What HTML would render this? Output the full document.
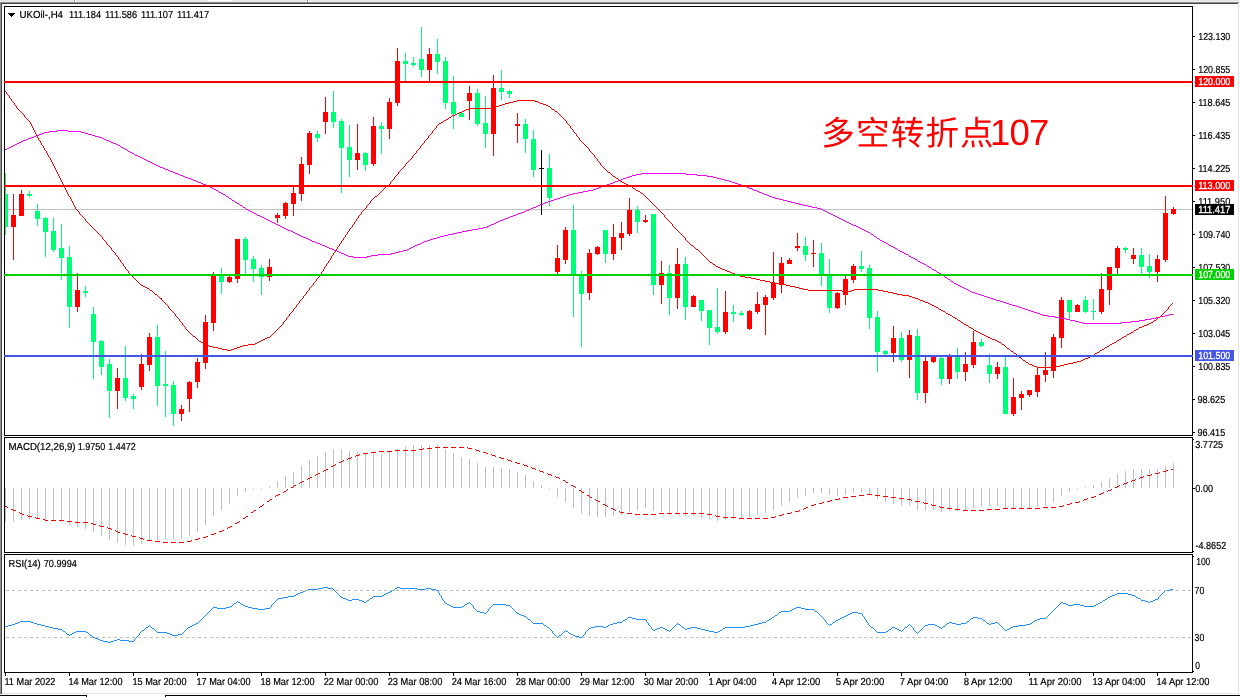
<!DOCTYPE html>
<html lang="zh"><head><meta charset="utf-8"><title>UKOil-,H4</title>
<style>
html,body{margin:0;padding:0;background:#fff;overflow:hidden}
svg{display:block}
text{font-family:"Liberation Sans","Noto Sans CJK SC",sans-serif;font-size:10.2px;fill:#000;stroke:#000;stroke-width:.2px;text-rendering:geometricPrecision}
.w{fill:#fff;stroke:#fff;stroke-width:.3px}
.note{font-family:"Liberation Sans","Noto Sans CJK SC",sans-serif;font-size:33.5px;fill:#f00;stroke:none}
.num{font-family:"Liberation Sans","Noto Sans CJK SC",sans-serif;font-size:36.5px;fill:#f00;stroke:none}
</style></head><body>
<svg width="1240" height="697" viewBox="0 0 1240 697">
<rect x="0" y="0" width="1240" height="697" fill="#fff"/>
<g shape-rendering="crispEdges">
<rect x="0" y="0" width="1240" height="1" fill="#e4e4e4"/>
<rect x="0" y="1" width="1240" height="1" fill="#ececec"/>
<rect x="208" y="0" width="24" height="1" fill="#ffffff"/>
<rect x="74" y="0" width="1" height="2" fill="#9a9a9a"/>
<rect x="75" y="0" width="1" height="2" fill="#ffffff"/>
<rect x="307" y="0" width="1" height="2" fill="#9a9a9a"/>
<rect x="308" y="0" width="1" height="2" fill="#ffffff"/>
<rect x="0" y="2" width="1239" height="1" fill="#909090"/>
<rect x="0" y="2" width="1" height="692" fill="#909090"/>
<rect x="1" y="3" width="1238" height="1" fill="#454545"/>
<rect x="1" y="3" width="1" height="691" fill="#454545"/>
<rect x="1238" y="3" width="1" height="691" fill="#e3e3e3"/>
<rect x="2" y="693" width="1237" height="1" fill="#e3e3e3"/>
<rect x="0" y="695" width="87" height="1" fill="#000"/>
<rect x="86" y="695" width="1" height="2" fill="#000"/>
<rect x="165" y="695" width="1075" height="1" fill="#000"/>
<rect x="165" y="695" width="1" height="2" fill="#000"/>
<rect x="4" y="6" width="1189" height="1" fill="#000"/>
<rect x="4" y="435" width="1189" height="1" fill="#000"/>
<rect x="4" y="6" width="1" height="430" fill="#000"/>
<rect x="1192" y="6" width="1" height="430" fill="#000"/>
<rect x="4" y="437" width="1189" height="1" fill="#000"/>
<rect x="4" y="552" width="1189" height="1" fill="#000"/>
<rect x="4" y="437" width="1" height="116" fill="#000"/>
<rect x="1192" y="437" width="1" height="116" fill="#000"/>
<rect x="4" y="554" width="1189" height="1" fill="#000"/>
<rect x="4" y="672" width="1189" height="1" fill="#000"/>
<rect x="4" y="554" width="1" height="119" fill="#000"/>
<rect x="1192" y="554" width="1" height="119" fill="#000"/>
</g>
<g shape-rendering="crispEdges">
<rect x="5" y="209" width="1187" height="1" fill="#C0C0C0"/>
<rect x="5" y="173" width="1" height="62" fill="#00FF76"/>
<rect x="5" y="194" width="3" height="33" fill="#00FF76"/>
<rect x="13" y="194" width="1" height="66" fill="#FF0000"/>
<rect x="11" y="215" width="5" height="12" fill="#FF0000"/>
<rect x="21" y="190" width="1" height="26" fill="#FF0000"/>
<rect x="19" y="194" width="5" height="22" fill="#FF0000"/>
<rect x="29" y="191" width="1" height="6" fill="#00FF76"/>
<rect x="27" y="194" width="5" height="2" fill="#00FF76"/>
<rect x="37" y="204" width="1" height="22" fill="#00FF76"/>
<rect x="35" y="211" width="5" height="8" fill="#00FF76"/>
<rect x="45" y="217" width="1" height="40" fill="#00FF76"/>
<rect x="43" y="218" width="5" height="14" fill="#00FF76"/>
<rect x="53" y="218" width="1" height="34" fill="#00FF76"/>
<rect x="51" y="231" width="5" height="19" fill="#00FF76"/>
<rect x="61" y="224" width="1" height="56" fill="#00FF76"/>
<rect x="59" y="248" width="5" height="10" fill="#00FF76"/>
<rect x="69" y="246" width="1" height="82" fill="#00FF76"/>
<rect x="67" y="257" width="5" height="50" fill="#00FF76"/>
<rect x="77" y="273" width="1" height="39" fill="#FF0000"/>
<rect x="75" y="290" width="5" height="17" fill="#FF0000"/>
<rect x="85" y="286" width="1" height="11" fill="#00FF76"/>
<rect x="83" y="291" width="5" height="2" fill="#00FF76"/>
<rect x="93" y="307" width="1" height="72" fill="#00FF76"/>
<rect x="91" y="314" width="5" height="28" fill="#00FF76"/>
<rect x="101" y="340" width="1" height="35" fill="#00FF76"/>
<rect x="99" y="341" width="5" height="26" fill="#00FF76"/>
<rect x="109" y="359" width="1" height="59" fill="#00FF76"/>
<rect x="107" y="364" width="5" height="27" fill="#00FF76"/>
<rect x="117" y="368" width="1" height="41" fill="#FF0000"/>
<rect x="115" y="378" width="5" height="13" fill="#FF0000"/>
<rect x="125" y="346" width="1" height="55" fill="#00FF76"/>
<rect x="123" y="378" width="5" height="20" fill="#00FF76"/>
<rect x="133" y="394" width="1" height="15" fill="#00FF76"/>
<rect x="131" y="396" width="5" height="3" fill="#00FF76"/>
<rect x="141" y="354" width="1" height="36" fill="#FF0000"/>
<rect x="139" y="364" width="5" height="23" fill="#FF0000"/>
<rect x="149" y="333" width="1" height="38" fill="#FF0000"/>
<rect x="147" y="337" width="5" height="28" fill="#FF0000"/>
<rect x="157" y="325" width="1" height="81" fill="#00FF76"/>
<rect x="155" y="337" width="5" height="49" fill="#00FF76"/>
<rect x="165" y="351" width="1" height="66" fill="#00FF76"/>
<rect x="163" y="384" width="5" height="2" fill="#00FF76"/>
<rect x="173" y="381" width="1" height="45" fill="#00FF76"/>
<rect x="171" y="385" width="5" height="29" fill="#00FF76"/>
<rect x="181" y="405" width="1" height="16" fill="#FF0000"/>
<rect x="179" y="409" width="5" height="5" fill="#FF0000"/>
<rect x="189" y="381" width="1" height="31" fill="#FF0000"/>
<rect x="187" y="382" width="5" height="17" fill="#FF0000"/>
<rect x="197" y="358" width="1" height="30" fill="#FF0000"/>
<rect x="195" y="362" width="5" height="20" fill="#FF0000"/>
<rect x="205" y="315" width="1" height="54" fill="#FF0000"/>
<rect x="203" y="322" width="5" height="41" fill="#FF0000"/>
<rect x="213" y="272" width="1" height="59" fill="#FF0000"/>
<rect x="211" y="275" width="5" height="48" fill="#FF0000"/>
<rect x="221" y="268" width="1" height="26" fill="#00FF76"/>
<rect x="219" y="275" width="5" height="7" fill="#00FF76"/>
<rect x="229" y="276" width="1" height="7" fill="#FF0000"/>
<rect x="227" y="277" width="5" height="5" fill="#FF0000"/>
<rect x="237" y="239" width="1" height="44" fill="#FF0000"/>
<rect x="235" y="239" width="5" height="40" fill="#FF0000"/>
<rect x="245" y="237" width="1" height="38" fill="#00FF76"/>
<rect x="243" y="239" width="5" height="21" fill="#00FF76"/>
<rect x="253" y="256" width="1" height="26" fill="#00FF76"/>
<rect x="251" y="259" width="5" height="10" fill="#00FF76"/>
<rect x="261" y="265" width="1" height="30" fill="#00FF76"/>
<rect x="259" y="268" width="5" height="9" fill="#00FF76"/>
<rect x="269" y="259" width="1" height="22" fill="#FF0000"/>
<rect x="267" y="267" width="5" height="10" fill="#FF0000"/>
<rect x="277" y="213" width="1" height="10" fill="#FF0000"/>
<rect x="275" y="215" width="5" height="3" fill="#FF0000"/>
<rect x="285" y="202" width="1" height="17" fill="#FF0000"/>
<rect x="283" y="203" width="5" height="13" fill="#FF0000"/>
<rect x="293" y="187" width="1" height="29" fill="#FF0000"/>
<rect x="291" y="193" width="5" height="11" fill="#FF0000"/>
<rect x="301" y="157" width="1" height="44" fill="#FF0000"/>
<rect x="299" y="164" width="5" height="30" fill="#FF0000"/>
<rect x="309" y="131" width="1" height="43" fill="#FF0000"/>
<rect x="307" y="133" width="5" height="32" fill="#FF0000"/>
<rect x="317" y="131" width="1" height="11" fill="#00FF76"/>
<rect x="315" y="134" width="5" height="4" fill="#00FF76"/>
<rect x="325" y="97" width="1" height="37" fill="#FF0000"/>
<rect x="323" y="112" width="5" height="10" fill="#FF0000"/>
<rect x="333" y="91" width="1" height="37" fill="#00FF76"/>
<rect x="331" y="112" width="5" height="10" fill="#00FF76"/>
<rect x="341" y="119" width="1" height="74" fill="#00FF76"/>
<rect x="339" y="121" width="5" height="27" fill="#00FF76"/>
<rect x="349" y="125" width="1" height="52" fill="#00FF76"/>
<rect x="347" y="147" width="5" height="13" fill="#00FF76"/>
<rect x="357" y="124" width="1" height="46" fill="#FF0000"/>
<rect x="355" y="153" width="5" height="7" fill="#FF0000"/>
<rect x="365" y="152" width="1" height="19" fill="#00FF76"/>
<rect x="363" y="153" width="5" height="12" fill="#00FF76"/>
<rect x="373" y="117" width="1" height="49" fill="#FF0000"/>
<rect x="371" y="126" width="5" height="38" fill="#FF0000"/>
<rect x="381" y="122" width="1" height="32" fill="#00FF76"/>
<rect x="379" y="126" width="5" height="3" fill="#00FF76"/>
<rect x="389" y="98" width="1" height="41" fill="#FF0000"/>
<rect x="387" y="102" width="5" height="27" fill="#FF0000"/>
<rect x="397" y="48" width="1" height="58" fill="#FF0000"/>
<rect x="395" y="61" width="5" height="42" fill="#FF0000"/>
<rect x="405" y="53" width="1" height="29" fill="#00FF76"/>
<rect x="403" y="61" width="5" height="3" fill="#00FF76"/>
<rect x="413" y="57" width="1" height="10" fill="#00FF76"/>
<rect x="411" y="63" width="5" height="2" fill="#00FF76"/>
<rect x="421" y="27" width="1" height="50" fill="#00FF76"/>
<rect x="419" y="59" width="5" height="11" fill="#00FF76"/>
<rect x="429" y="48" width="1" height="34" fill="#FF0000"/>
<rect x="427" y="54" width="5" height="16" fill="#FF0000"/>
<rect x="437" y="39" width="1" height="35" fill="#00FF76"/>
<rect x="435" y="54" width="5" height="8" fill="#00FF76"/>
<rect x="445" y="57" width="1" height="52" fill="#00FF76"/>
<rect x="443" y="61" width="5" height="42" fill="#00FF76"/>
<rect x="453" y="76" width="1" height="53" fill="#00FF76"/>
<rect x="451" y="102" width="5" height="12" fill="#00FF76"/>
<rect x="461" y="113" width="1" height="4" fill="#00FF76"/>
<rect x="459" y="113" width="5" height="4" fill="#00FF76"/>
<rect x="469" y="86" width="1" height="34" fill="#FF0000"/>
<rect x="467" y="93" width="5" height="8" fill="#FF0000"/>
<rect x="477" y="89" width="1" height="37" fill="#00FF76"/>
<rect x="475" y="93" width="5" height="31" fill="#00FF76"/>
<rect x="485" y="96" width="1" height="52" fill="#00FF76"/>
<rect x="483" y="123" width="5" height="11" fill="#00FF76"/>
<rect x="493" y="75" width="1" height="81" fill="#FF0000"/>
<rect x="491" y="88" width="5" height="46" fill="#FF0000"/>
<rect x="501" y="70" width="1" height="30" fill="#00FF76"/>
<rect x="499" y="88" width="5" height="4" fill="#00FF76"/>
<rect x="509" y="90" width="1" height="8" fill="#00FF76"/>
<rect x="507" y="91" width="5" height="3" fill="#00FF76"/>
<rect x="517" y="113" width="1" height="30" fill="#FF0000"/>
<rect x="515" y="124" width="5" height="2" fill="#FF0000"/>
<rect x="525" y="119" width="1" height="34" fill="#00FF76"/>
<rect x="523" y="124" width="5" height="15" fill="#00FF76"/>
<rect x="533" y="130" width="1" height="47" fill="#00FF76"/>
<rect x="531" y="139" width="5" height="31" fill="#00FF76"/>
<rect x="541" y="150" width="1" height="65" fill="#000"/>
<rect x="539" y="168" width="5" height="1" fill="#000"/>
<rect x="549" y="154" width="1" height="52" fill="#00FF76"/>
<rect x="547" y="168" width="5" height="30" fill="#00FF76"/>
<rect x="557" y="245" width="1" height="29" fill="#FF0000"/>
<rect x="555" y="258" width="5" height="14" fill="#FF0000"/>
<rect x="565" y="227" width="1" height="37" fill="#FF0000"/>
<rect x="563" y="230" width="5" height="30" fill="#FF0000"/>
<rect x="573" y="205" width="1" height="112" fill="#00FF76"/>
<rect x="571" y="230" width="5" height="45" fill="#00FF76"/>
<rect x="581" y="271" width="1" height="76" fill="#00FF76"/>
<rect x="579" y="275" width="5" height="19" fill="#00FF76"/>
<rect x="589" y="249" width="1" height="51" fill="#FF0000"/>
<rect x="587" y="253" width="5" height="40" fill="#FF0000"/>
<rect x="597" y="246" width="1" height="9" fill="#FF0000"/>
<rect x="595" y="247" width="5" height="7" fill="#FF0000"/>
<rect x="605" y="230" width="1" height="33" fill="#00FF76"/>
<rect x="603" y="230" width="5" height="24" fill="#00FF76"/>
<rect x="613" y="224" width="1" height="36" fill="#FF0000"/>
<rect x="611" y="237" width="5" height="17" fill="#FF0000"/>
<rect x="621" y="222" width="1" height="28" fill="#FF0000"/>
<rect x="619" y="233" width="5" height="5" fill="#FF0000"/>
<rect x="629" y="198" width="1" height="38" fill="#FF0000"/>
<rect x="627" y="210" width="5" height="24" fill="#FF0000"/>
<rect x="637" y="206" width="1" height="27" fill="#00FF76"/>
<rect x="635" y="210" width="5" height="12" fill="#00FF76"/>
<rect x="645" y="215" width="1" height="8" fill="#FF0000"/>
<rect x="643" y="220" width="5" height="2" fill="#FF0000"/>
<rect x="653" y="214" width="1" height="81" fill="#00FF76"/>
<rect x="651" y="214" width="5" height="71" fill="#00FF76"/>
<rect x="661" y="261" width="1" height="43" fill="#FF0000"/>
<rect x="659" y="273" width="5" height="12" fill="#FF0000"/>
<rect x="669" y="265" width="1" height="50" fill="#00FF76"/>
<rect x="667" y="273" width="5" height="25" fill="#00FF76"/>
<rect x="677" y="248" width="1" height="61" fill="#FF0000"/>
<rect x="675" y="264" width="5" height="34" fill="#FF0000"/>
<rect x="685" y="257" width="1" height="63" fill="#00FF76"/>
<rect x="683" y="264" width="5" height="43" fill="#00FF76"/>
<rect x="693" y="295" width="1" height="12" fill="#FF0000"/>
<rect x="691" y="296" width="5" height="11" fill="#FF0000"/>
<rect x="701" y="300" width="1" height="21" fill="#00FF76"/>
<rect x="699" y="300" width="5" height="11" fill="#00FF76"/>
<rect x="709" y="310" width="1" height="35" fill="#00FF76"/>
<rect x="707" y="310" width="5" height="18" fill="#00FF76"/>
<rect x="717" y="288" width="1" height="46" fill="#00FF76"/>
<rect x="715" y="327" width="5" height="5" fill="#00FF76"/>
<rect x="725" y="291" width="1" height="43" fill="#FF0000"/>
<rect x="723" y="312" width="5" height="20" fill="#FF0000"/>
<rect x="733" y="305" width="1" height="17" fill="#00FF76"/>
<rect x="731" y="312" width="5" height="2" fill="#00FF76"/>
<rect x="741" y="311" width="1" height="5" fill="#00FF76"/>
<rect x="739" y="313" width="5" height="2" fill="#00FF76"/>
<rect x="749" y="310" width="1" height="20" fill="#FF0000"/>
<rect x="747" y="311" width="5" height="18" fill="#FF0000"/>
<rect x="757" y="292" width="1" height="22" fill="#FF0000"/>
<rect x="755" y="304" width="5" height="8" fill="#FF0000"/>
<rect x="765" y="295" width="1" height="40" fill="#FF0000"/>
<rect x="763" y="297" width="5" height="8" fill="#FF0000"/>
<rect x="773" y="252" width="1" height="48" fill="#FF0000"/>
<rect x="771" y="283" width="5" height="15" fill="#FF0000"/>
<rect x="781" y="257" width="1" height="36" fill="#FF0000"/>
<rect x="779" y="263" width="5" height="22" fill="#FF0000"/>
<rect x="789" y="258" width="1" height="6" fill="#FF0000"/>
<rect x="787" y="260" width="5" height="4" fill="#FF0000"/>
<rect x="797" y="233" width="1" height="18" fill="#FF0000"/>
<rect x="795" y="246" width="5" height="2" fill="#FF0000"/>
<rect x="805" y="237" width="1" height="24" fill="#00FF76"/>
<rect x="803" y="246" width="5" height="9" fill="#00FF76"/>
<rect x="813" y="240" width="1" height="27" fill="#FF0000"/>
<rect x="811" y="253" width="5" height="1" fill="#FF0000"/>
<rect x="821" y="243" width="1" height="43" fill="#00FF76"/>
<rect x="819" y="253" width="5" height="22" fill="#00FF76"/>
<rect x="829" y="259" width="1" height="54" fill="#00FF76"/>
<rect x="827" y="275" width="5" height="33" fill="#00FF76"/>
<rect x="837" y="292" width="1" height="17" fill="#FF0000"/>
<rect x="835" y="293" width="5" height="15" fill="#FF0000"/>
<rect x="845" y="276" width="1" height="29" fill="#FF0000"/>
<rect x="843" y="279" width="5" height="16" fill="#FF0000"/>
<rect x="853" y="264" width="1" height="19" fill="#FF0000"/>
<rect x="851" y="266" width="5" height="14" fill="#FF0000"/>
<rect x="861" y="251" width="1" height="21" fill="#00FF76"/>
<rect x="859" y="266" width="5" height="3" fill="#00FF76"/>
<rect x="869" y="265" width="1" height="64" fill="#00FF76"/>
<rect x="867" y="268" width="5" height="50" fill="#00FF76"/>
<rect x="877" y="311" width="1" height="61" fill="#00FF76"/>
<rect x="875" y="317" width="5" height="35" fill="#00FF76"/>
<rect x="885" y="350" width="1" height="7" fill="#00FF76"/>
<rect x="883" y="351" width="5" height="3" fill="#00FF76"/>
<rect x="893" y="326" width="1" height="36" fill="#FF0000"/>
<rect x="891" y="338" width="5" height="15" fill="#FF0000"/>
<rect x="901" y="332" width="1" height="30" fill="#00FF76"/>
<rect x="899" y="338" width="5" height="22" fill="#00FF76"/>
<rect x="909" y="330" width="1" height="48" fill="#FF0000"/>
<rect x="907" y="335" width="5" height="25" fill="#FF0000"/>
<rect x="917" y="329" width="1" height="71" fill="#00FF76"/>
<rect x="915" y="336" width="5" height="57" fill="#00FF76"/>
<rect x="925" y="357" width="1" height="46" fill="#FF0000"/>
<rect x="923" y="361" width="5" height="32" fill="#FF0000"/>
<rect x="933" y="357" width="1" height="6" fill="#FF0000"/>
<rect x="931" y="357" width="5" height="5" fill="#FF0000"/>
<rect x="941" y="357" width="1" height="28" fill="#00FF76"/>
<rect x="939" y="358" width="5" height="21" fill="#00FF76"/>
<rect x="949" y="354" width="1" height="30" fill="#FF0000"/>
<rect x="947" y="355" width="5" height="24" fill="#FF0000"/>
<rect x="957" y="348" width="1" height="31" fill="#00FF76"/>
<rect x="955" y="356" width="5" height="16" fill="#00FF76"/>
<rect x="965" y="352" width="1" height="29" fill="#FF0000"/>
<rect x="963" y="364" width="5" height="8" fill="#FF0000"/>
<rect x="973" y="331" width="1" height="37" fill="#FF0000"/>
<rect x="971" y="342" width="5" height="23" fill="#FF0000"/>
<rect x="981" y="339" width="1" height="8" fill="#00FF76"/>
<rect x="979" y="342" width="5" height="4" fill="#00FF76"/>
<rect x="989" y="354" width="1" height="29" fill="#00FF76"/>
<rect x="987" y="365" width="5" height="9" fill="#00FF76"/>
<rect x="997" y="362" width="1" height="17" fill="#FF0000"/>
<rect x="995" y="367" width="5" height="7" fill="#FF0000"/>
<rect x="1005" y="357" width="1" height="57" fill="#00FF76"/>
<rect x="1003" y="367" width="5" height="47" fill="#00FF76"/>
<rect x="1013" y="378" width="1" height="38" fill="#FF0000"/>
<rect x="1011" y="397" width="5" height="17" fill="#FF0000"/>
<rect x="1021" y="391" width="1" height="19" fill="#FF0000"/>
<rect x="1019" y="394" width="5" height="4" fill="#FF0000"/>
<rect x="1029" y="390" width="1" height="7" fill="#FF0000"/>
<rect x="1027" y="390" width="5" height="5" fill="#FF0000"/>
<rect x="1037" y="367" width="1" height="30" fill="#FF0000"/>
<rect x="1035" y="375" width="5" height="17" fill="#FF0000"/>
<rect x="1045" y="352" width="1" height="30" fill="#FF0000"/>
<rect x="1043" y="370" width="5" height="5" fill="#FF0000"/>
<rect x="1053" y="334" width="1" height="44" fill="#FF0000"/>
<rect x="1051" y="337" width="5" height="34" fill="#FF0000"/>
<rect x="1061" y="297" width="1" height="51" fill="#FF0000"/>
<rect x="1059" y="300" width="5" height="38" fill="#FF0000"/>
<rect x="1069" y="300" width="1" height="19" fill="#00FF76"/>
<rect x="1067" y="300" width="5" height="12" fill="#00FF76"/>
<rect x="1077" y="304" width="1" height="8" fill="#FF0000"/>
<rect x="1075" y="305" width="5" height="7" fill="#FF0000"/>
<rect x="1085" y="296" width="1" height="17" fill="#00FF76"/>
<rect x="1083" y="300" width="5" height="12" fill="#00FF76"/>
<rect x="1093" y="299" width="1" height="21" fill="#00FF76"/>
<rect x="1091" y="311" width="5" height="1" fill="#00FF76"/>
<rect x="1101" y="273" width="1" height="41" fill="#FF0000"/>
<rect x="1099" y="289" width="5" height="23" fill="#FF0000"/>
<rect x="1109" y="267" width="1" height="38" fill="#FF0000"/>
<rect x="1107" y="267" width="5" height="23" fill="#FF0000"/>
<rect x="1117" y="246" width="1" height="28" fill="#FF0000"/>
<rect x="1115" y="248" width="5" height="20" fill="#FF0000"/>
<rect x="1125" y="247" width="1" height="6" fill="#00FF76"/>
<rect x="1123" y="248" width="5" height="2" fill="#00FF76"/>
<rect x="1133" y="248" width="1" height="16" fill="#FF0000"/>
<rect x="1131" y="255" width="5" height="4" fill="#FF0000"/>
<rect x="1141" y="248" width="1" height="26" fill="#00FF76"/>
<rect x="1139" y="255" width="5" height="12" fill="#00FF76"/>
<rect x="1149" y="254" width="1" height="24" fill="#00FF76"/>
<rect x="1147" y="266" width="5" height="6" fill="#00FF76"/>
<rect x="1157" y="255" width="1" height="27" fill="#FF0000"/>
<rect x="1155" y="259" width="5" height="13" fill="#FF0000"/>
<rect x="1165" y="196" width="1" height="66" fill="#FF0000"/>
<rect x="1163" y="213" width="5" height="47" fill="#FF0000"/>
<rect x="1173" y="207" width="1" height="8" fill="#FF0000"/>
<rect x="1171" y="209" width="5" height="5" fill="#FF0000"/>
</g>
<path d="M5 149h2v1h-2zM7 148h2v1h-2zM9 147h2v1h-2zM11 146h2v1h-2zM13 145h2v1h-2zM15 144h2v1h-2zM17 143h2v1h-2zM19 142h2v1h-2zM21 141h2v1h-2zM23 140h3v1h-3zM26 139h2v1h-2zM28 138h3v1h-3zM31 137h3v1h-3zM34 136h2v1h-2zM36 135h3v1h-3zM39 134h3v1h-3zM42 133h2v1h-2zM44 132h5v1h-5zM49 131h8v1h-8zM57 130h11v1h-11zM68 131h13v1h-13zM81 132h4v1h-4zM85 133h3v1h-3zM88 134h4v1h-4zM92 135h3v1h-3zM95 136h4v1h-4zM99 137h3v1h-3zM102 138h2v1h-2zM104 139h2v1h-2zM106 140h3v1h-3zM109 141h2v1h-2zM111 142h2v1h-2zM113 143h3v1h-3zM116 144h2v1h-2zM118 145h2v1h-2zM120 146h1v1h-1zM121 147h2v1h-2zM123 148h2v1h-2zM125 149h2v1h-2zM127 150h1v1h-1zM128 151h2v1h-2zM130 152h2v1h-2zM132 153h2v1h-2zM134 154h1v1h-1zM135 155h3v1h-3zM138 156h2v1h-2zM140 157h2v1h-2zM142 158h2v1h-2zM144 159h2v1h-2zM146 160h2v1h-2zM148 161h2v1h-2zM150 162h2v1h-2zM152 163h2v1h-2zM154 164h2v1h-2zM156 165h2v1h-2zM158 166h2v1h-2zM160 167h3v1h-3zM163 168h2v1h-2zM165 169h3v1h-3zM168 170h2v1h-2zM170 171h3v1h-3zM173 172h2v1h-2zM175 173h3v1h-3zM178 174h2v1h-2zM180 175h3v1h-3zM183 176h2v1h-2zM185 177h3v1h-3zM188 178h3v1h-3zM191 179h2v1h-2zM193 180h3v1h-3zM196 181h2v1h-2zM198 182h3v1h-3zM201 183h2v1h-2zM203 184h3v1h-3zM206 185h2v1h-2zM208 186h2v1h-2zM210 187h2v1h-2zM212 188h2v1h-2zM214 189h2v1h-2zM216 190h2v1h-2zM218 191h1v1h-1zM219 192h2v1h-2zM221 193h2v1h-2zM223 194h2v1h-2zM225 195h1v1h-1zM226 196h2v1h-2zM228 197h1v1h-1zM229 198h2v1h-2zM231 199h1v1h-1zM232 200h2v1h-2zM234 201h1v1h-1zM235 202h2v1h-2zM237 203h2v1h-2zM239 204h1v1h-1zM240 205h2v1h-2zM242 206h1v1h-1zM243 207h2v1h-2zM245 208h1v1h-1zM246 209h2v1h-2zM248 210h2v1h-2zM250 211h2v1h-2zM252 212h2v1h-2zM254 213h2v1h-2zM256 214h1v1h-1zM257 215h3v1h-3zM260 216h2v1h-2zM262 217h2v1h-2zM264 218h2v1h-2zM266 219h2v1h-2zM268 220h2v1h-2zM270 221h2v1h-2zM272 222h2v1h-2zM274 223h2v1h-2zM276 224h2v1h-2zM278 225h2v1h-2zM280 226h2v1h-2zM282 227h2v1h-2zM284 228h2v1h-2zM286 229h2v1h-2zM288 230h3v1h-3zM291 231h2v1h-2zM293 232h2v1h-2zM295 233h2v1h-2zM297 234h2v1h-2zM299 235h2v1h-2zM301 236h2v1h-2zM303 237h3v1h-3zM306 238h2v1h-2zM308 239h2v1h-2zM310 240h2v1h-2zM312 241h3v1h-3zM315 242h2v1h-2zM317 243h3v1h-3zM320 244h2v1h-2zM322 245h3v1h-3zM325 246h2v1h-2zM327 247h2v1h-2zM329 248h3v1h-3zM332 249h2v1h-2zM334 250h3v1h-3zM337 251h2v1h-2zM339 252h2v1h-2zM341 253h3v1h-3zM344 254h2v1h-2zM346 255h2v1h-2zM348 256h5v1h-5zM353 257h14v1h-14zM367 256h4v1h-4zM371 255h7v1h-7zM378 254h13v1h-13zM391 253h4v1h-4zM395 252h4v1h-4zM399 251h4v1h-4zM403 250h4v1h-4zM407 249h2v1h-2zM409 248h2v1h-2zM411 247h2v1h-2zM413 246h2v1h-2zM415 245h2v1h-2zM417 244h3v1h-3zM420 243h2v1h-2zM422 242h2v1h-2zM424 241h3v1h-3zM427 240h3v1h-3zM430 239h3v1h-3zM433 238h4v1h-4zM437 237h3v1h-3zM440 236h4v1h-4zM444 235h4v1h-4zM448 234h5v1h-5zM453 233h4v1h-4zM457 232h5v1h-5zM462 231h5v1h-5zM467 230h5v1h-5zM472 229h6v1h-6zM478 228h5v1h-5zM483 227h4v1h-4zM487 226h2v1h-2zM489 225h2v1h-2zM491 224h3v1h-3zM494 223h2v1h-2zM496 222h2v1h-2zM498 221h2v1h-2zM500 220h3v1h-3zM503 219h2v1h-2zM505 218h3v1h-3zM508 217h2v1h-2zM510 216h3v1h-3zM513 215h3v1h-3zM516 214h2v1h-2zM518 213h3v1h-3zM521 212h3v1h-3zM524 211h2v1h-2zM526 210h3v1h-3zM529 209h2v1h-2zM531 208h2v1h-2zM533 207h3v1h-3zM536 206h2v1h-2zM538 205h2v1h-2zM540 204h3v1h-3zM543 203h2v1h-2zM545 202h3v1h-3zM548 201h3v1h-3zM551 200h3v1h-3zM554 199h3v1h-3zM557 198h3v1h-3zM560 197h3v1h-3zM563 196h3v1h-3zM566 195h3v1h-3zM569 194h4v1h-4zM573 193h5v1h-5zM578 192h5v1h-5zM583 191h5v1h-5zM588 190h5v1h-5zM593 189h3v1h-3zM596 188h3v1h-3zM599 187h2v1h-2zM601 186h3v1h-3zM604 185h3v1h-3zM607 184h3v1h-3zM610 183h3v1h-3zM613 182h2v1h-2zM615 181h3v1h-3zM618 180h3v1h-3zM621 179h2v1h-2zM623 178h3v1h-3zM626 177h3v1h-3zM629 176h3v1h-3zM632 175h4v1h-4zM636 174h5v1h-5zM641 173h45v1h-45zM686 174h11v1h-11zM697 175h10v1h-10zM707 176h6v1h-6zM713 177h4v1h-4zM717 178h4v1h-4zM721 179h4v1h-4zM725 180h4v1h-4zM729 181h3v1h-3zM732 182h3v1h-3zM735 183h3v1h-3zM738 184h3v1h-3zM741 185h3v1h-3zM744 186h3v1h-3zM747 187h2v1h-2zM749 188h3v1h-3zM752 189h2v1h-2zM754 190h3v1h-3zM757 191h2v1h-2zM759 192h3v1h-3zM762 193h2v1h-2zM764 194h3v1h-3zM767 195h2v1h-2zM769 196h3v1h-3zM772 197h3v1h-3zM775 198h4v1h-4zM779 199h4v1h-4zM783 200h4v1h-4zM787 201h4v1h-4zM791 202h4v1h-4zM795 203h4v1h-4zM799 204h4v1h-4zM803 205h5v1h-5zM808 206h4v1h-4zM812 207h5v1h-5zM817 208h4v1h-4zM821 209h2v1h-2zM823 210h2v1h-2zM825 211h2v1h-2zM827 212h2v1h-2zM829 213h2v1h-2zM831 214h2v1h-2zM833 215h2v1h-2zM835 216h2v1h-2zM837 217h2v1h-2zM839 218h2v1h-2zM841 219h2v1h-2zM843 220h2v1h-2zM845 221h2v1h-2zM847 222h2v1h-2zM849 223h2v1h-2zM851 224h2v1h-2zM853 225h3v1h-3zM856 226h2v1h-2zM858 227h2v1h-2zM860 228h2v1h-2zM862 229h2v1h-2zM864 230h2v1h-2zM866 231h2v1h-2zM868 232h2v1h-2zM870 233h1v1h-1zM871 234h2v1h-2zM873 235h1v1h-1zM874 236h2v1h-2zM876 237h1v1h-1zM877 238h2v1h-2zM879 239h1v1h-1zM880 240h2v1h-2zM882 241h2v1h-2zM884 242h2v1h-2zM886 243h2v1h-2zM888 244h1v1h-1zM889 245h2v1h-2zM891 246h2v1h-2zM893 247h2v1h-2zM895 248h2v1h-2zM897 249h1v1h-1zM898 250h2v1h-2zM900 251h2v1h-2zM902 252h2v1h-2zM904 253h2v1h-2zM906 254h2v1h-2zM908 255h1v1h-1zM909 256h2v1h-2zM911 257h2v1h-2zM913 258h2v1h-2zM915 259h2v1h-2zM917 260h1v1h-1zM918 261h2v1h-2zM920 262h2v1h-2zM922 263h2v1h-2zM924 264h2v1h-2zM926 265h1v1h-1zM927 266h2v1h-2zM929 267h2v1h-2zM931 268h1v1h-1zM932 269h2v1h-2zM934 270h2v1h-2zM936 271h1v1h-1zM937 272h2v1h-2zM939 273h2v1h-2zM941 274h1v1h-1zM942 275h2v1h-2zM944 276h1v1h-1zM945 277h2v1h-2zM947 278h1v1h-1zM948 279h2v1h-2zM950 280h1v1h-1zM951 281h2v1h-2zM953 282h1v1h-1zM954 283h2v1h-2zM956 284h2v1h-2zM958 285h2v1h-2zM960 286h2v1h-2zM962 287h2v1h-2zM964 288h2v1h-2zM966 289h2v1h-2zM968 290h2v1h-2zM970 291h2v1h-2zM972 292h3v1h-3zM975 293h3v1h-3zM978 294h3v1h-3zM981 295h3v1h-3zM984 296h3v1h-3zM987 297h3v1h-3zM990 298h3v1h-3zM993 299h3v1h-3zM996 300h4v1h-4zM1000 301h3v1h-3zM1003 302h3v1h-3zM1006 303h3v1h-3zM1009 304h3v1h-3zM1012 305h4v1h-4zM1016 306h3v1h-3zM1019 307h3v1h-3zM1022 308h3v1h-3zM1025 309h3v1h-3zM1028 310h3v1h-3zM1031 311h3v1h-3zM1034 312h3v1h-3zM1037 313h3v1h-3zM1040 314h3v1h-3zM1043 315h5v1h-5zM1048 316h7v1h-7zM1055 317h6v1h-6zM1061 318h5v1h-5zM1066 319h4v1h-4zM1070 320h5v1h-5zM1075 321h4v1h-4zM1079 322h4v1h-4zM1083 323h38v1h-38zM1121 322h10v1h-10zM1131 321h8v1h-8zM1139 320h6v1h-6zM1145 319h6v1h-6zM1151 318h5v1h-5zM1156 317h4v1h-4zM1160 316h5v1h-5zM1165 315h4v1h-4zM1169 314h4v1h-4z" fill="#FF00FF" shape-rendering="crispEdges"/>
<path d="M5 91h1v1h-1zM6 92h1v2h-1zM7 94h1v1h-1zM8 95h1v1h-1zM9 96h1v2h-1zM10 98h1v1h-1zM11 99h1v2h-1zM12 101h1v1h-1zM13 102h1v1h-1zM14 103h1v2h-1zM15 105h1v1h-1zM16 106h1v2h-1zM17 108h1v1h-1zM18 109h1v1h-1zM19 110h1v1h-1zM20 111h1v1h-1zM21 112h1v1h-1zM22 113h1v1h-1zM23 114h1v1h-1zM24 115h1v2h-1zM25 117h1v1h-1zM26 118h1v1h-1zM27 119h1v1h-1zM28 120h1v1h-1zM29 121h1v1h-1zM30 122h1v2h-1zM31 124h1v2h-1zM32 126h1v2h-1zM33 128h1v2h-1zM34 130h1v2h-1zM35 132h1v2h-1zM36 134h1v2h-1zM37 136h1v2h-1zM38 138h1v2h-1zM39 140h1v1h-1zM40 141h1v2h-1zM41 143h1v2h-1zM42 145h1v1h-1zM43 146h1v2h-1zM44 148h1v2h-1zM45 150h1v1h-1zM46 151h1v2h-1zM47 153h1v2h-1zM48 155h1v2h-1zM49 157h1v1h-1zM50 158h1v2h-1zM51 160h1v2h-1zM52 162h1v2h-1zM53 164h1v2h-1zM54 166h1v2h-1zM55 168h1v2h-1zM56 170h1v2h-1zM57 172h1v2h-1zM58 174h1v2h-1zM59 176h1v2h-1zM60 178h1v2h-1zM61 180h1v2h-1zM62 182h1v2h-1zM63 184h1v2h-1zM64 186h1v2h-1zM65 188h1v2h-1zM66 190h1v2h-1zM67 192h1v2h-1zM68 194h1v2h-1zM69 196h1v1h-1zM70 197h1v2h-1zM71 199h1v2h-1zM72 201h1v2h-1zM73 203h1v2h-1zM74 205h1v2h-1zM75 207h1v2h-1zM76 209h1v1h-1zM77 210h1v1h-1zM78 211h1v1h-1zM79 212h1v2h-1zM80 214h1v1h-1zM81 215h1v1h-1zM82 216h1v1h-1zM83 217h1v1h-1zM84 218h1v1h-1zM85 219h1v2h-1zM86 221h1v1h-1zM87 222h1v1h-1zM88 223h1v1h-1zM89 224h1v1h-1zM90 225h1v1h-1zM91 226h1v1h-1zM92 227h1v1h-1zM93 228h1v1h-1zM94 229h1v1h-1zM95 230h1v1h-1zM96 231h1v1h-1zM97 232h1v1h-1zM98 233h1v1h-1zM99 234h1v1h-1zM100 235h1v1h-1zM101 236h1v1h-1zM102 237h1v2h-1zM103 239h1v1h-1zM104 240h1v1h-1zM105 241h1v1h-1zM106 242h1v2h-1zM107 244h1v1h-1zM108 245h1v1h-1zM109 246h1v1h-1zM110 247h1v1h-1zM111 248h1v2h-1zM112 250h1v1h-1zM113 251h1v1h-1zM114 252h1v1h-1zM115 253h1v2h-1zM116 255h1v1h-1zM117 256h1v1h-1zM118 257h1v2h-1zM119 259h1v1h-1zM120 260h1v2h-1zM121 262h1v1h-1zM122 263h1v1h-1zM123 264h1v2h-1zM124 266h1v1h-1zM125 267h1v2h-1zM126 269h1v1h-1zM127 270h1v1h-1zM128 271h1v2h-1zM129 273h1v1h-1zM130 274h1v1h-1zM131 275h1v1h-1zM132 276h1v1h-1zM133 277h1v1h-1zM134 278h1v1h-1zM135 279h1v1h-1zM136 280h1v1h-1zM137 281h1v1h-1zM138 282h1v1h-1zM139 283h1v1h-1zM140 284h1v1h-1zM141 285h2v1h-2zM143 286h2v1h-2zM145 287h2v1h-2zM147 288h2v1h-2zM149 289h1v1h-1zM150 290h2v1h-2zM152 291h1v1h-1zM153 292h1v1h-1zM154 293h1v1h-1zM155 294h2v1h-2zM157 295h1v1h-1zM158 296h1v1h-1zM159 297h1v1h-1zM160 298h1v1h-1zM161 298h1v2h-1zM162 300h1v1h-1zM163 301h1v1h-1zM164 302h1v1h-1zM165 303h1v1h-1zM166 304h1v1h-1zM167 305h1v1h-1zM168 306h1v2h-1zM169 308h1v1h-1zM170 309h1v1h-1zM171 310h1v1h-1zM172 311h1v1h-1zM173 312h1v1h-1zM174 313h1v1h-1zM175 314h1v2h-1zM176 316h1v1h-1zM177 317h1v1h-1zM178 318h1v1h-1zM179 319h1v2h-1zM180 321h1v1h-1zM181 322h1v1h-1zM182 323h1v2h-1zM183 325h1v1h-1zM184 326h1v1h-1zM185 327h1v2h-1zM186 329h1v1h-1zM187 330h1v1h-1zM188 331h1v1h-1zM189 332h1v1h-1zM190 333h1v1h-1zM191 334h1v1h-1zM192 335h1v1h-1zM193 336h2v1h-2zM195 337h1v1h-1zM196 338h1v1h-1zM197 339h1v1h-1zM198 340h1v1h-1zM199 341h2v1h-2zM201 342h2v1h-2zM203 343h2v1h-2zM205 344h2v1h-2zM207 345h2v1h-2zM209 346h4v1h-4zM213 347h5v1h-5zM218 348h4v1h-4zM222 349h5v1h-5zM227 350h4v1h-4zM231 349h3v1h-3zM234 348h3v1h-3zM237 347h3v1h-3zM240 346h3v1h-3zM243 345h5v1h-5zM248 344h7v1h-7zM255 343h2v1h-2zM257 342h2v1h-2zM259 341h2v1h-2zM261 340h2v1h-2zM263 339h2v1h-2zM265 338h2v1h-2zM267 337h3v1h-3zM270 336h1v1h-1zM271 335h1v1h-1zM272 334h1v1h-1zM273 333h1v1h-1zM274 332h1v1h-1zM275 331h1v1h-1zM276 330h1v1h-1zM277 329h1v1h-1zM278 328h1v1h-1zM279 327h1v1h-1zM280 326h1v1h-1zM281 325h1v1h-1zM282 324h1v1h-1zM283 322h1v2h-1zM284 321h1v1h-1zM285 320h1v1h-1zM286 318h1v2h-1zM287 317h1v1h-1zM288 316h1v1h-1zM289 314h1v2h-1zM290 313h1v1h-1zM291 312h1v1h-1zM292 311h1v1h-1zM293 309h1v2h-1zM294 308h1v1h-1zM295 307h1v1h-1zM296 305h1v2h-1zM297 304h1v1h-1zM298 303h1v1h-1zM299 301h1v2h-1zM300 300h1v1h-1zM301 299h1v1h-1zM302 298h1v1h-1zM303 296h1v2h-1zM304 295h1v1h-1zM305 294h1v1h-1zM306 292h1v2h-1zM307 291h1v1h-1zM308 290h1v1h-1zM309 288h1v2h-1zM310 287h1v1h-1zM311 286h1v1h-1zM312 285h1v1h-1zM313 283h1v2h-1zM314 282h1v1h-1zM315 281h1v1h-1zM316 279h1v2h-1zM317 278h1v1h-1zM318 277h1v1h-1zM319 275h1v2h-1zM320 274h1v1h-1zM321 272h1v2h-1zM322 271h1v1h-1zM323 269h1v2h-1zM324 267h1v2h-1zM325 266h1v1h-1zM326 264h1v2h-1zM327 263h1v1h-1zM328 261h1v2h-1zM329 260h1v1h-1zM330 258h1v2h-1zM331 256h1v2h-1zM332 255h1v1h-1zM333 253h1v2h-1zM334 252h1v1h-1zM335 250h1v2h-1zM336 249h1v1h-1zM337 247h1v2h-1zM338 246h1v1h-1zM339 244h1v2h-1zM340 243h1v1h-1zM341 241h1v2h-1zM342 240h1v1h-1zM343 238h1v2h-1zM344 237h1v1h-1zM345 235h1v2h-1zM346 234h1v1h-1zM347 232h1v2h-1zM348 231h1v1h-1zM349 229h1v2h-1zM350 228h1v1h-1zM351 227h1v1h-1zM352 225h1v2h-1zM353 224h1v1h-1zM354 222h1v2h-1zM355 221h1v1h-1zM356 219h1v2h-1zM357 218h1v1h-1zM358 216h1v2h-1zM359 215h1v1h-1zM360 214h1v1h-1zM361 212h1v2h-1zM362 211h1v1h-1zM363 210h1v1h-1zM364 209h1v1h-1zM365 208h1v1h-1zM366 206h1v2h-1zM367 205h1v1h-1zM368 204h1v1h-1zM369 203h1v1h-1zM370 201h1v2h-1zM371 200h1v1h-1zM372 199h1v1h-1zM373 198h1v1h-1zM374 197h1v1h-1zM375 196h2v1h-2zM377 195h1v1h-1zM378 194h1v1h-1zM379 193h1v1h-1zM380 192h1v1h-1zM381 191h1v1h-1zM382 190h1v1h-1zM383 189h1v1h-1zM384 188h1v1h-1zM385 187h1v1h-1zM386 186h1v1h-1zM387 185h2v1h-2zM389 184h1v1h-1zM390 182h1v2h-1zM391 181h1v1h-1zM392 180h1v1h-1zM393 179h1v1h-1zM394 177h1v2h-1zM395 176h1v1h-1zM396 175h1v1h-1zM397 174h1v1h-1zM398 172h1v2h-1zM399 171h1v1h-1zM400 170h1v1h-1zM401 169h1v1h-1zM402 168h1v1h-1zM403 167h1v1h-1zM404 166h1v1h-1zM405 164h1v2h-1zM406 163h1v1h-1zM407 162h1v1h-1zM408 161h1v1h-1zM409 160h1v1h-1zM410 159h1v1h-1zM411 158h1v1h-1zM412 156h1v2h-1zM413 155h1v1h-1zM414 154h1v1h-1zM415 153h1v1h-1zM416 151h1v2h-1zM417 150h1v1h-1zM418 149h1v1h-1zM419 148h1v1h-1zM420 146h1v2h-1zM421 145h1v1h-1zM422 144h1v1h-1zM423 143h1v1h-1zM424 141h1v2h-1zM425 140h1v1h-1zM426 139h1v1h-1zM427 138h1v1h-1zM428 136h1v2h-1zM429 135h1v1h-1zM430 134h1v1h-1zM431 133h1v1h-1zM432 131h1v2h-1zM433 130h1v1h-1zM434 129h1v1h-1zM435 128h1v1h-1zM436 126h1v2h-1zM437 125h1v1h-1zM438 124h1v1h-1zM439 123h2v1h-2zM441 122h2v1h-2zM443 121h1v1h-1zM444 120h2v1h-2zM446 119h2v1h-2zM448 118h1v1h-1zM449 117h2v1h-2zM451 116h1v1h-1zM452 115h3v1h-3zM455 114h2v1h-2zM457 113h2v1h-2zM459 112h3v1h-3zM462 111h2v1h-2zM464 110h2v1h-2zM466 109h3v1h-3zM469 108h23v1h-23zM492 107h4v1h-4zM496 106h3v1h-3zM499 105h3v1h-3zM502 104h3v1h-3zM505 103h4v1h-4zM509 102h4v1h-4zM513 101h4v1h-4zM517 100h18v1h-18zM535 101h3v1h-3zM538 102h2v1h-2zM540 103h3v1h-3zM543 104h3v1h-3zM546 105h2v1h-2zM548 106h2v1h-2zM550 107h1v1h-1zM551 108h1v1h-1zM552 109h2v1h-2zM554 110h1v1h-1zM555 111h2v1h-2zM557 112h1v1h-1zM558 113h1v1h-1zM559 114h1v1h-1zM560 115h1v1h-1zM561 116h1v1h-1zM562 117h1v1h-1zM563 118h1v1h-1zM564 119h1v1h-1zM565 120h1v1h-1zM566 121h1v2h-1zM567 123h1v1h-1zM568 124h1v1h-1zM569 125h1v1h-1zM570 126h1v2h-1zM571 128h1v1h-1zM572 129h1v1h-1zM573 130h1v2h-1zM574 132h1v1h-1zM575 133h1v1h-1zM576 134h1v2h-1zM577 136h1v1h-1zM578 137h1v1h-1zM579 138h1v2h-1zM580 140h1v1h-1zM581 141h1v1h-1zM582 142h1v1h-1zM583 143h1v1h-1zM584 144h1v1h-1zM585 145h1v1h-1zM586 146h1v1h-1zM587 147h1v1h-1zM588 148h1v1h-1zM589 149h1v2h-1zM590 151h1v1h-1zM591 152h1v1h-1zM592 153h1v1h-1zM593 154h1v1h-1zM594 155h1v2h-1zM595 157h1v1h-1zM596 158h1v1h-1zM597 159h1v2h-1zM598 161h1v1h-1zM599 162h1v1h-1zM600 163h1v2h-1zM601 165h1v1h-1zM602 166h1v1h-1zM603 167h1v1h-1zM604 168h1v1h-1zM605 169h1v1h-1zM606 170h1v1h-1zM607 171h1v1h-1zM608 172h2v1h-2zM610 173h1v1h-1zM611 174h1v1h-1zM612 175h1v1h-1zM613 176h2v1h-2zM615 177h1v1h-1zM616 178h2v1h-2zM618 179h1v1h-1zM619 180h1v1h-1zM620 181h2v1h-2zM622 182h2v1h-2zM624 183h2v1h-2zM626 184h2v1h-2zM628 185h2v1h-2zM630 186h2v1h-2zM632 187h1v1h-1zM633 188h2v1h-2zM635 189h1v1h-1zM636 190h2v1h-2zM638 191h2v1h-2zM640 192h1v1h-1zM641 193h2v1h-2zM643 194h1v1h-1zM644 195h1v1h-1zM645 196h1v1h-1zM646 197h1v1h-1zM647 198h1v1h-1zM648 199h1v1h-1zM649 200h1v1h-1zM650 201h1v1h-1zM651 202h1v1h-1zM652 203h1v1h-1zM653 204h1v1h-1zM654 205h1v1h-1zM655 206h1v1h-1zM656 207h1v1h-1zM657 208h1v1h-1zM658 209h1v1h-1zM659 210h1v1h-1zM660 211h1v1h-1zM661 212h1v1h-1zM662 213h1v1h-1zM663 214h1v1h-1zM664 215h1v2h-1zM665 217h1v1h-1zM666 218h1v1h-1zM667 219h1v1h-1zM668 220h1v1h-1zM669 221h1v1h-1zM670 222h1v1h-1zM671 223h1v1h-1zM672 224h1v2h-1zM673 226h1v1h-1zM674 227h1v1h-1zM675 228h1v1h-1zM676 229h1v1h-1zM677 230h1v1h-1zM678 231h1v1h-1zM679 232h1v1h-1zM680 233h1v1h-1zM681 234h1v1h-1zM682 235h1v1h-1zM683 236h1v1h-1zM684 237h1v1h-1zM685 238h1v2h-1zM686 240h1v1h-1zM687 241h1v1h-1zM688 242h1v1h-1zM689 243h1v1h-1zM690 244h1v1h-1zM691 245h2v1h-2zM693 246h1v1h-1zM694 247h1v1h-1zM695 248h1v1h-1zM696 249h2v1h-2zM698 250h1v1h-1zM699 251h1v1h-1zM700 252h1v1h-1zM701 253h1v1h-1zM702 254h1v1h-1zM703 255h1v1h-1zM704 256h1v1h-1zM705 257h1v1h-1zM706 258h1v1h-1zM707 259h1v1h-1zM708 260h1v1h-1zM709 261h1v1h-1zM710 262h2v1h-2zM712 263h1v1h-1zM713 264h2v1h-2zM715 265h1v1h-1zM716 266h2v1h-2zM718 267h2v1h-2zM720 268h2v1h-2zM722 269h3v1h-3zM725 270h2v1h-2zM727 271h3v1h-3zM730 272h2v1h-2zM732 273h3v1h-3zM735 274h2v1h-2zM737 275h3v1h-3zM740 276h5v1h-5zM745 277h6v1h-6zM751 278h5v1h-5zM756 279h4v1h-4zM760 280h5v1h-5zM765 281h5v1h-5zM770 282h5v1h-5zM775 283h5v1h-5zM780 284h6v1h-6zM786 285h4v1h-4zM790 286h5v1h-5zM795 287h4v1h-4zM799 288h4v1h-4zM803 289h5v1h-5zM808 290h34v1h-34zM842 291h9v1h-9zM851 290h3v1h-3zM854 289h24v1h-24zM878 290h5v1h-5zM883 291h5v1h-5zM888 292h5v1h-5zM893 293h4v1h-4zM897 294h5v1h-5zM902 295h7v1h-7zM909 296h3v1h-3zM912 297h3v1h-3zM915 298h3v1h-3zM918 299h2v1h-2zM920 300h3v1h-3zM923 301h2v1h-2zM925 302h3v1h-3zM928 303h2v1h-2zM930 304h2v1h-2zM932 305h2v1h-2zM934 306h2v1h-2zM936 307h2v1h-2zM938 308h1v1h-1zM939 309h2v1h-2zM941 310h2v1h-2zM943 311h2v1h-2zM945 312h1v1h-1zM946 313h2v1h-2zM948 314h2v1h-2zM950 315h2v1h-2zM952 316h1v1h-1zM953 317h2v1h-2zM955 318h2v1h-2zM957 319h1v1h-1zM958 320h2v1h-2zM960 321h1v1h-1zM961 322h2v1h-2zM963 323h1v1h-1zM964 324h2v1h-2zM966 325h2v1h-2zM968 326h1v1h-1zM969 327h2v1h-2zM971 328h2v1h-2zM973 329h1v1h-1zM974 330h2v1h-2zM976 331h2v1h-2zM978 332h2v1h-2zM980 333h2v1h-2zM982 334h2v1h-2zM984 335h2v1h-2zM986 336h2v1h-2zM988 337h2v1h-2zM990 338h2v1h-2zM992 339h3v1h-3zM995 340h2v1h-2zM997 341h2v1h-2zM999 342h2v1h-2zM1001 343h1v1h-1zM1002 344h2v1h-2zM1004 345h1v1h-1zM1005 346h1v1h-1zM1006 347h1v1h-1zM1007 348h2v1h-2zM1009 349h1v1h-1zM1010 350h1v1h-1zM1011 351h2v1h-2zM1013 352h1v1h-1zM1014 353h2v1h-2zM1016 354h1v1h-1zM1017 355h1v1h-1zM1018 356h1v1h-1zM1019 357h2v1h-2zM1021 358h1v1h-1zM1022 359h1v1h-1zM1023 360h2v1h-2zM1025 361h1v1h-1zM1026 362h2v1h-2zM1028 363h1v1h-1zM1029 364h3v1h-3zM1032 365h2v1h-2zM1034 366h3v1h-3zM1037 367h18v1h-18zM1055 366h5v1h-5zM1060 365h4v1h-4zM1064 364h4v1h-4zM1068 363h5v1h-5zM1073 362h4v1h-4zM1077 361h4v1h-4zM1081 360h2v1h-2zM1083 359h2v1h-2zM1085 358h3v1h-3zM1088 357h2v1h-2zM1090 356h2v1h-2zM1092 355h2v1h-2zM1094 354h1v1h-1zM1095 353h2v1h-2zM1097 352h2v1h-2zM1099 351h1v1h-1zM1100 350h2v1h-2zM1102 349h2v1h-2zM1104 348h1v1h-1zM1105 347h2v1h-2zM1107 346h2v1h-2zM1109 345h1v1h-1zM1110 344h2v1h-2zM1112 343h2v1h-2zM1114 342h2v1h-2zM1116 341h1v1h-1zM1117 340h2v1h-2zM1119 339h2v1h-2zM1121 338h1v1h-1zM1122 337h2v1h-2zM1124 336h2v1h-2zM1126 335h1v1h-1zM1127 334h2v1h-2zM1129 333h2v1h-2zM1131 332h2v1h-2zM1133 331h1v1h-1zM1134 330h2v1h-2zM1136 329h2v1h-2zM1138 328h1v1h-1zM1139 327h3v1h-3zM1142 326h2v1h-2zM1144 325h3v1h-3zM1147 324h2v1h-2zM1149 323h2v1h-2zM1151 322h2v1h-2zM1153 321h1v1h-1zM1154 320h2v1h-2zM1156 319h1v1h-1zM1157 318h1v1h-1zM1158 317h2v1h-2zM1160 316h1v1h-1zM1161 315h1v1h-1zM1162 314h1v1h-1zM1163 313h1v1h-1zM1164 312h1v1h-1zM1165 311h1v1h-1zM1166 310h1v1h-1zM1167 309h1v1h-1zM1168 307h1v2h-1zM1169 306h1v1h-1zM1170 305h1v1h-1zM1171 304h1v1h-1zM1172 303h1v1h-1z" fill="#FF0000" shape-rendering="crispEdges"/>
<g shape-rendering="crispEdges">
<rect x="4" y="81" width="1189" height="2" fill="#FF0000"/>
<rect x="4" y="185" width="1189" height="2" fill="#FF0000"/>
<rect x="4" y="274" width="1189" height="2" fill="#00D000"/>
<rect x="4" y="355" width="1189" height="2" fill="#4456E4"/>
</g>
<g shape-rendering="crispEdges">
<rect x="1193" y="36" width="2" height="1" fill="#000"/>
<rect x="1193" y="69" width="2" height="1" fill="#000"/>
<rect x="1193" y="102" width="2" height="1" fill="#000"/>
<rect x="1193" y="135" width="2" height="1" fill="#000"/>
<rect x="1193" y="168" width="2" height="1" fill="#000"/>
<rect x="1193" y="201" width="2" height="1" fill="#000"/>
<rect x="1193" y="234" width="2" height="1" fill="#000"/>
<rect x="1193" y="267" width="2" height="1" fill="#000"/>
<rect x="1193" y="300" width="2" height="1" fill="#000"/>
<rect x="1193" y="333" width="2" height="1" fill="#000"/>
<rect x="1193" y="366" width="2" height="1" fill="#000"/>
<rect x="1193" y="399" width="2" height="1" fill="#000"/>
<rect x="1193" y="432" width="2" height="1" fill="#000"/>
<rect x="1193" y="439" width="1" height="1" fill="#000"/>
<rect x="1193" y="488" width="2" height="1" fill="#000"/>
<rect x="1193" y="551" width="1" height="1" fill="#000"/>
<rect x="1193" y="556" width="1" height="1" fill="#000"/>
<rect x="1193" y="671" width="1" height="1" fill="#000"/>
</g>
<text x="1198.2" y="40" textLength="32.1" lengthAdjust="spacingAndGlyphs">123.130</text>
<text x="1198.2" y="73" textLength="32.1" lengthAdjust="spacingAndGlyphs">120.855</text>
<text x="1198.2" y="106" textLength="32.1" lengthAdjust="spacingAndGlyphs">118.645</text>
<text x="1198.2" y="139" textLength="32.1" lengthAdjust="spacingAndGlyphs">116.435</text>
<text x="1198.2" y="172" textLength="32.1" lengthAdjust="spacingAndGlyphs">114.225</text>
<text x="1198.2" y="205" textLength="32.1" lengthAdjust="spacingAndGlyphs">111.950</text>
<text x="1198.2" y="238" textLength="32.1" lengthAdjust="spacingAndGlyphs">109.740</text>
<text x="1198.2" y="271" textLength="32.1" lengthAdjust="spacingAndGlyphs">107.530</text>
<text x="1198.2" y="304" textLength="32.1" lengthAdjust="spacingAndGlyphs">105.320</text>
<text x="1198.2" y="337" textLength="32.1" lengthAdjust="spacingAndGlyphs">103.045</text>
<text x="1198.2" y="370" textLength="32.1" lengthAdjust="spacingAndGlyphs">100.835</text>
<text x="1197.5" y="403" textLength="27.7" lengthAdjust="spacingAndGlyphs">98.625</text>
<text x="1197.5" y="436" textLength="27.7" lengthAdjust="spacingAndGlyphs">96.415</text>
<rect x="1195" y="76" width="39" height="11" fill="#FF0000" shape-rendering="crispEdges"/>
<text class="w" x="1198.2" y="85" textLength="32.1" lengthAdjust="spacingAndGlyphs">120.000</text>
<rect x="1195" y="180" width="39" height="11" fill="#FF0000" shape-rendering="crispEdges"/>
<text class="w" x="1198.2" y="189" textLength="32.1" lengthAdjust="spacingAndGlyphs">113.000</text>
<rect x="1195" y="269" width="39" height="11" fill="#00D000" shape-rendering="crispEdges"/>
<text class="w" x="1198.2" y="278" textLength="32.1" lengthAdjust="spacingAndGlyphs">107.000</text>
<rect x="1195" y="350" width="39" height="11" fill="#4456E4" shape-rendering="crispEdges"/>
<text class="w" x="1198.2" y="359" textLength="32.1" lengthAdjust="spacingAndGlyphs">101.500</text>
<rect x="1195" y="204" width="39" height="11" fill="#000000" shape-rendering="crispEdges"/>
<text class="w" x="1198.2" y="213" textLength="32.1" lengthAdjust="spacingAndGlyphs">111.417</text>
<path d="M8 13h7l-3.5 4z" fill="#000" shape-rendering="crispEdges"/>
<text y="18"><tspan x="19.5" textLength="43.5" lengthAdjust="spacingAndGlyphs">UKOil-,H4</tspan> <tspan x="69.0" textLength="32.1" lengthAdjust="spacingAndGlyphs">111.184</tspan> <tspan x="105.0" textLength="32.1" lengthAdjust="spacingAndGlyphs">111.586</tspan> <tspan x="141.0" textLength="32.1" lengthAdjust="spacingAndGlyphs">111.107</tspan> <tspan x="177.0" textLength="32.1" lengthAdjust="spacingAndGlyphs">111.417</tspan></text>
<text y="450"><tspan x="8.4" textLength="67.2" lengthAdjust="spacingAndGlyphs">MACD(12,26,9)</tspan> <tspan x="77.8" textLength="27.5" lengthAdjust="spacingAndGlyphs">1.9750</tspan> <tspan x="108.3" textLength="27.5" lengthAdjust="spacingAndGlyphs">1.4472</tspan></text>
<text y="567"><tspan x="8.4" textLength="32.3" lengthAdjust="spacingAndGlyphs">RSI(14)</tspan> <tspan x="43.8" textLength="33" lengthAdjust="spacingAndGlyphs">70.9994</tspan></text>
<text class="note" x="821.3" y="145.1"><tspan letter-spacing="1.2">多空转折点</tspan><tspan class="num" x="990" y="145.3" letter-spacing="-0.8">107</tspan></text>
<g shape-rendering="crispEdges">
<rect x="5" y="488" width="1" height="34" fill="#C0C0C0"/>
<rect x="13" y="488" width="1" height="34" fill="#C0C0C0"/>
<rect x="21" y="488" width="1" height="32" fill="#C0C0C0"/>
<rect x="29" y="488" width="1" height="31" fill="#C0C0C0"/>
<rect x="37" y="488" width="1" height="31" fill="#C0C0C0"/>
<rect x="45" y="488" width="1" height="31" fill="#C0C0C0"/>
<rect x="53" y="488" width="1" height="32" fill="#C0C0C0"/>
<rect x="61" y="488" width="1" height="34" fill="#C0C0C0"/>
<rect x="69" y="488" width="1" height="37" fill="#C0C0C0"/>
<rect x="77" y="488" width="1" height="39" fill="#C0C0C0"/>
<rect x="85" y="488" width="1" height="41" fill="#C0C0C0"/>
<rect x="93" y="488" width="1" height="44" fill="#C0C0C0"/>
<rect x="101" y="488" width="1" height="48" fill="#C0C0C0"/>
<rect x="109" y="488" width="1" height="52" fill="#C0C0C0"/>
<rect x="117" y="488" width="1" height="55" fill="#C0C0C0"/>
<rect x="125" y="488" width="1" height="57" fill="#C0C0C0"/>
<rect x="133" y="488" width="1" height="58" fill="#C0C0C0"/>
<rect x="141" y="488" width="1" height="56" fill="#C0C0C0"/>
<rect x="149" y="488" width="1" height="53" fill="#C0C0C0"/>
<rect x="157" y="488" width="1" height="52" fill="#C0C0C0"/>
<rect x="165" y="488" width="1" height="51" fill="#C0C0C0"/>
<rect x="173" y="488" width="1" height="51" fill="#C0C0C0"/>
<rect x="181" y="488" width="1" height="51" fill="#C0C0C0"/>
<rect x="189" y="488" width="1" height="48" fill="#C0C0C0"/>
<rect x="197" y="488" width="1" height="44" fill="#C0C0C0"/>
<rect x="205" y="488" width="1" height="37" fill="#C0C0C0"/>
<rect x="213" y="488" width="1" height="28" fill="#C0C0C0"/>
<rect x="221" y="488" width="1" height="22" fill="#C0C0C0"/>
<rect x="229" y="488" width="1" height="16" fill="#C0C0C0"/>
<rect x="237" y="488" width="1" height="8" fill="#C0C0C0"/>
<rect x="245" y="488" width="1" height="4" fill="#C0C0C0"/>
<rect x="253" y="488" width="1" height="1" fill="#C0C0C0"/>
<rect x="261" y="488" width="1" height="1" fill="#C0C0C0"/>
<rect x="269" y="486" width="1" height="2" fill="#C0C0C0"/>
<rect x="277" y="481" width="1" height="7" fill="#C0C0C0"/>
<rect x="285" y="476" width="1" height="12" fill="#C0C0C0"/>
<rect x="293" y="472" width="1" height="16" fill="#C0C0C0"/>
<rect x="301" y="466" width="1" height="22" fill="#C0C0C0"/>
<rect x="309" y="460" width="1" height="28" fill="#C0C0C0"/>
<rect x="317" y="456" width="1" height="32" fill="#C0C0C0"/>
<rect x="325" y="452" width="1" height="36" fill="#C0C0C0"/>
<rect x="333" y="449" width="1" height="39" fill="#C0C0C0"/>
<rect x="341" y="449" width="1" height="39" fill="#C0C0C0"/>
<rect x="349" y="451" width="1" height="37" fill="#C0C0C0"/>
<rect x="357" y="452" width="1" height="36" fill="#C0C0C0"/>
<rect x="365" y="454" width="1" height="34" fill="#C0C0C0"/>
<rect x="373" y="453" width="1" height="35" fill="#C0C0C0"/>
<rect x="381" y="454" width="1" height="34" fill="#C0C0C0"/>
<rect x="389" y="452" width="1" height="36" fill="#C0C0C0"/>
<rect x="397" y="449" width="1" height="39" fill="#C0C0C0"/>
<rect x="405" y="446" width="1" height="42" fill="#C0C0C0"/>
<rect x="413" y="445" width="1" height="43" fill="#C0C0C0"/>
<rect x="421" y="445" width="1" height="43" fill="#C0C0C0"/>
<rect x="429" y="445" width="1" height="43" fill="#C0C0C0"/>
<rect x="437" y="445" width="1" height="43" fill="#C0C0C0"/>
<rect x="445" y="449" width="1" height="39" fill="#C0C0C0"/>
<rect x="453" y="453" width="1" height="35" fill="#C0C0C0"/>
<rect x="461" y="457" width="1" height="31" fill="#C0C0C0"/>
<rect x="469" y="459" width="1" height="29" fill="#C0C0C0"/>
<rect x="477" y="463" width="1" height="25" fill="#C0C0C0"/>
<rect x="485" y="467" width="1" height="21" fill="#C0C0C0"/>
<rect x="493" y="467" width="1" height="21" fill="#C0C0C0"/>
<rect x="501" y="468" width="1" height="20" fill="#C0C0C0"/>
<rect x="509" y="469" width="1" height="19" fill="#C0C0C0"/>
<rect x="517" y="472" width="1" height="16" fill="#C0C0C0"/>
<rect x="525" y="475" width="1" height="13" fill="#C0C0C0"/>
<rect x="533" y="481" width="1" height="7" fill="#C0C0C0"/>
<rect x="541" y="485" width="1" height="3" fill="#C0C0C0"/>
<rect x="549" y="488" width="1" height="1" fill="#C0C0C0"/>
<rect x="557" y="488" width="1" height="9" fill="#C0C0C0"/>
<rect x="565" y="488" width="1" height="14" fill="#C0C0C0"/>
<rect x="573" y="488" width="1" height="20" fill="#C0C0C0"/>
<rect x="581" y="488" width="1" height="26" fill="#C0C0C0"/>
<rect x="589" y="488" width="1" height="28" fill="#C0C0C0"/>
<rect x="597" y="488" width="1" height="29" fill="#C0C0C0"/>
<rect x="605" y="488" width="1" height="29" fill="#C0C0C0"/>
<rect x="613" y="488" width="1" height="28" fill="#C0C0C0"/>
<rect x="621" y="488" width="1" height="27" fill="#C0C0C0"/>
<rect x="629" y="488" width="1" height="24" fill="#C0C0C0"/>
<rect x="637" y="488" width="1" height="22" fill="#C0C0C0"/>
<rect x="645" y="488" width="1" height="20" fill="#C0C0C0"/>
<rect x="653" y="488" width="1" height="23" fill="#C0C0C0"/>
<rect x="661" y="488" width="1" height="24" fill="#C0C0C0"/>
<rect x="669" y="488" width="1" height="27" fill="#C0C0C0"/>
<rect x="677" y="488" width="1" height="26" fill="#C0C0C0"/>
<rect x="685" y="488" width="1" height="28" fill="#C0C0C0"/>
<rect x="693" y="488" width="1" height="28" fill="#C0C0C0"/>
<rect x="701" y="488" width="1" height="30" fill="#C0C0C0"/>
<rect x="709" y="488" width="1" height="31" fill="#C0C0C0"/>
<rect x="717" y="488" width="1" height="33" fill="#C0C0C0"/>
<rect x="725" y="488" width="1" height="32" fill="#C0C0C0"/>
<rect x="733" y="488" width="1" height="31" fill="#C0C0C0"/>
<rect x="741" y="488" width="1" height="30" fill="#C0C0C0"/>
<rect x="749" y="488" width="1" height="29" fill="#C0C0C0"/>
<rect x="757" y="488" width="1" height="27" fill="#C0C0C0"/>
<rect x="765" y="488" width="1" height="25" fill="#C0C0C0"/>
<rect x="773" y="488" width="1" height="22" fill="#C0C0C0"/>
<rect x="781" y="488" width="1" height="18" fill="#C0C0C0"/>
<rect x="789" y="488" width="1" height="14" fill="#C0C0C0"/>
<rect x="797" y="488" width="1" height="10" fill="#C0C0C0"/>
<rect x="805" y="488" width="1" height="8" fill="#C0C0C0"/>
<rect x="813" y="488" width="1" height="5" fill="#C0C0C0"/>
<rect x="821" y="488" width="1" height="5" fill="#C0C0C0"/>
<rect x="829" y="488" width="1" height="7" fill="#C0C0C0"/>
<rect x="837" y="488" width="1" height="8" fill="#C0C0C0"/>
<rect x="845" y="488" width="1" height="7" fill="#C0C0C0"/>
<rect x="853" y="488" width="1" height="5" fill="#C0C0C0"/>
<rect x="861" y="488" width="1" height="4" fill="#C0C0C0"/>
<rect x="869" y="488" width="1" height="6" fill="#C0C0C0"/>
<rect x="877" y="488" width="1" height="11" fill="#C0C0C0"/>
<rect x="885" y="488" width="1" height="14" fill="#C0C0C0"/>
<rect x="893" y="488" width="1" height="16" fill="#C0C0C0"/>
<rect x="901" y="488" width="1" height="18" fill="#C0C0C0"/>
<rect x="909" y="488" width="1" height="18" fill="#C0C0C0"/>
<rect x="917" y="488" width="1" height="22" fill="#C0C0C0"/>
<rect x="925" y="488" width="1" height="23" fill="#C0C0C0"/>
<rect x="933" y="488" width="1" height="22" fill="#C0C0C0"/>
<rect x="941" y="488" width="1" height="24" fill="#C0C0C0"/>
<rect x="949" y="488" width="1" height="23" fill="#C0C0C0"/>
<rect x="957" y="488" width="1" height="23" fill="#C0C0C0"/>
<rect x="965" y="488" width="1" height="22" fill="#C0C0C0"/>
<rect x="973" y="488" width="1" height="20" fill="#C0C0C0"/>
<rect x="981" y="488" width="1" height="18" fill="#C0C0C0"/>
<rect x="989" y="488" width="1" height="18" fill="#C0C0C0"/>
<rect x="997" y="488" width="1" height="18" fill="#C0C0C0"/>
<rect x="1005" y="488" width="1" height="20" fill="#C0C0C0"/>
<rect x="1013" y="488" width="1" height="20" fill="#C0C0C0"/>
<rect x="1021" y="488" width="1" height="20" fill="#C0C0C0"/>
<rect x="1029" y="488" width="1" height="20" fill="#C0C0C0"/>
<rect x="1037" y="488" width="1" height="19" fill="#C0C0C0"/>
<rect x="1045" y="488" width="1" height="18" fill="#C0C0C0"/>
<rect x="1053" y="488" width="1" height="14" fill="#C0C0C0"/>
<rect x="1061" y="488" width="1" height="8" fill="#C0C0C0"/>
<rect x="1069" y="488" width="1" height="4" fill="#C0C0C0"/>
<rect x="1077" y="488" width="1" height="1" fill="#C0C0C0"/>
<rect x="1085" y="487" width="1" height="1" fill="#C0C0C0"/>
<rect x="1093" y="485" width="1" height="3" fill="#C0C0C0"/>
<rect x="1101" y="482" width="1" height="6" fill="#C0C0C0"/>
<rect x="1109" y="478" width="1" height="10" fill="#C0C0C0"/>
<rect x="1117" y="474" width="1" height="14" fill="#C0C0C0"/>
<rect x="1125" y="471" width="1" height="17" fill="#C0C0C0"/>
<rect x="1133" y="469" width="1" height="19" fill="#C0C0C0"/>
<rect x="1141" y="469" width="1" height="19" fill="#C0C0C0"/>
<rect x="1149" y="469" width="1" height="19" fill="#C0C0C0"/>
<rect x="1157" y="469" width="1" height="19" fill="#C0C0C0"/>
<rect x="1165" y="466" width="1" height="22" fill="#C0C0C0"/>
<rect x="1173" y="463" width="1" height="25" fill="#C0C0C0"/>
</g>
<path d="M5 506h2v1h-2zM7 507h1v1h-1zM11 509h2v1h-2zM13 510h3v1h-3zM19 512h1v1h-1zM20 513h2v1h-2zM22 514h2v1h-2zM27 515h1v1h-1zM28 516h4v1h-4zM35 517h1v1h-1zM36 518h4v1h-4zM43 519h2v1h-2zM45 520h3v1h-3zM51 520h5v1h-5zM59 520h5v1h-5zM67 521h5v1h-5zM75 522h5v1h-5zM83 522h5v1h-5zM91 523h2v1h-2zM93 524h3v1h-3zM99 525h1v1h-1zM100 526h4v1h-4zM107 527h1v1h-1zM108 528h3v1h-3zM111 529h1v1h-1zM115 530h1v1h-1zM116 531h2v1h-2zM118 532h2v1h-2zM123 533h2v1h-2zM125 534h3v1h-3zM131 535h1v1h-1zM132 536h4v1h-4zM139 537h1v1h-1zM140 538h3v1h-3zM143 539h1v1h-1zM147 540h5v1h-5zM155 541h5v1h-5zM163 542h5v1h-5zM171 542h5v1h-5zM179 542h5v1h-5zM187 541h4v1h-4zM191 540h1v1h-1zM195 539h3v1h-3zM198 538h2v1h-2zM203 537h3v1h-3zM206 536h2v1h-2zM211 534h3v1h-3zM214 533h2v1h-2zM219 531h3v1h-3zM222 530h2v1h-2zM227 528h1v1h-1zM228 527h2v1h-2zM230 526h2v1h-2zM235 523h2v1h-2zM237 522h2v1h-2zM239 521h1v1h-1zM243 518h2v1h-2zM245 517h1v1h-1zM246 516h2v1h-2zM251 512h2v1h-2zM253 511h1v1h-1zM254 510h2v1h-2zM259 507h1v1h-1zM260 506h2v1h-2zM262 505h1v1h-1zM263 504h1v1h-1zM267 501h2v1h-2zM269 500h1v1h-1zM270 499h2v1h-2zM275 496h1v1h-1zM276 495h2v1h-2zM278 494h2v1h-2zM283 492h1v1h-1zM284 491h2v1h-2zM286 490h1v1h-1zM287 489h1v1h-1zM291 487h2v1h-2zM293 486h1v1h-1zM294 485h2v1h-2zM299 483h1v1h-1zM300 482h2v1h-2zM302 481h2v1h-2zM307 479h1v1h-1zM308 478h2v1h-2zM310 477h2v1h-2zM315 475h1v1h-1zM316 474h2v1h-2zM318 473h2v1h-2zM323 471h1v1h-1zM324 470h2v1h-2zM326 469h2v1h-2zM331 466h2v1h-2zM333 465h2v1h-2zM335 464h1v1h-1zM339 462h2v1h-2zM341 461h2v1h-2zM343 460h1v1h-1zM347 459h1v1h-1zM348 458h3v1h-3zM351 457h1v1h-1zM355 456h1v1h-1zM356 455h3v1h-3zM359 454h1v1h-1zM363 453h5v1h-5zM371 452h5v1h-5zM379 451h5v1h-5zM387 451h5v1h-5zM395 450h5v1h-5zM403 450h5v1h-5zM411 450h5v1h-5zM419 449h4v1h-4zM423 448h1v1h-1zM427 448h5v1h-5zM435 447h5v1h-5zM443 447h5v1h-5zM451 447h5v1h-5zM459 447h5v1h-5zM467 447h1v1h-1zM468 448h4v1h-4zM475 449h1v1h-1zM476 450h3v1h-3zM479 451h1v1h-1zM483 452h3v1h-3zM486 453h2v1h-2zM491 454h1v1h-1zM492 455h3v1h-3zM495 456h1v1h-1zM499 457h2v1h-2zM501 458h3v1h-3zM507 459h1v1h-1zM508 460h3v1h-3zM511 461h1v1h-1zM515 462h2v1h-2zM517 463h3v1h-3zM523 464h1v1h-1zM524 465h3v1h-3zM527 466h1v1h-1zM531 467h1v1h-1zM532 468h3v1h-3zM535 469h1v1h-1zM539 470h1v1h-1zM540 471h3v1h-3zM543 472h1v1h-1zM547 473h1v1h-1zM548 474h3v1h-3zM551 475h1v1h-1zM555 476h1v1h-1zM556 477h3v1h-3zM559 478h1v1h-1zM563 480h2v1h-2zM565 481h1v1h-1zM566 482h2v1h-2zM571 485h2v1h-2zM573 486h2v1h-2zM575 487h1v1h-1zM579 490h2v1h-2zM581 491h1v1h-1zM582 492h2v1h-2zM587 495h2v1h-2zM589 496h1v1h-1zM590 497h2v1h-2zM595 499h1v1h-1zM596 500h2v1h-2zM598 501h2v1h-2zM603 504h2v1h-2zM605 505h2v1h-2zM607 506h1v1h-1zM611 508h2v1h-2zM613 509h2v1h-2zM615 510h1v1h-1zM619 511h1v1h-1zM620 512h4v1h-4zM627 513h5v1h-5zM635 514h5v1h-5zM643 514h5v1h-5zM651 514h5v1h-5zM659 513h5v1h-5zM667 513h5v1h-5zM675 513h5v1h-5zM683 513h5v1h-5zM691 513h5v1h-5zM699 513h5v1h-5zM707 514h5v1h-5zM715 515h1v1h-1zM716 516h4v1h-4zM723 517h5v1h-5zM731 517h5v1h-5zM739 518h5v1h-5zM747 518h5v1h-5zM755 518h5v1h-5zM763 518h5v1h-5zM771 517h4v1h-4zM775 516h1v1h-1zM779 515h3v1h-3zM782 514h2v1h-2zM787 513h4v1h-4zM791 512h1v1h-1zM795 511h4v1h-4zM799 510h1v1h-1zM803 509h1v1h-1zM804 508h2v1h-2zM806 507h2v1h-2zM811 505h3v1h-3zM814 504h2v1h-2zM819 503h3v1h-3zM822 502h2v1h-2zM827 501h3v1h-3zM830 500h2v1h-2zM835 499h4v1h-4zM839 498h1v1h-1zM843 497h5v1h-5zM851 496h5v1h-5zM859 495h5v1h-5zM867 494h5v1h-5zM875 495h5v1h-5zM883 496h5v1h-5zM891 497h5v1h-5zM899 498h5v1h-5zM907 499h4v1h-4zM911 500h1v1h-1zM915 501h5v1h-5zM923 502h1v1h-1zM924 503h4v1h-4zM931 504h1v1h-1zM932 505h4v1h-4zM939 506h1v1h-1zM940 507h4v1h-4zM947 508h5v1h-5zM955 509h5v1h-5zM963 510h5v1h-5zM971 510h5v1h-5zM979 510h5v1h-5zM987 509h5v1h-5zM995 509h5v1h-5zM1003 508h5v1h-5zM1011 508h5v1h-5zM1019 508h5v1h-5zM1027 508h5v1h-5zM1035 508h5v1h-5zM1043 507h5v1h-5zM1051 507h5v1h-5zM1059 506h4v1h-4zM1063 505h1v1h-1zM1067 504h3v1h-3zM1070 503h2v1h-2zM1075 502h4v1h-4zM1079 501h1v1h-1zM1083 500h1v1h-1zM1084 499h3v1h-3zM1087 498h1v1h-1zM1091 497h3v1h-3zM1094 496h2v1h-2zM1099 494h2v1h-2zM1101 493h2v1h-2zM1103 492h1v1h-1zM1107 491h1v1h-1zM1108 490h3v1h-3zM1111 489h1v1h-1zM1115 487h2v1h-2zM1117 486h2v1h-2zM1119 485h1v1h-1zM1123 484h1v1h-1zM1124 483h3v1h-3zM1127 482h1v1h-1zM1131 481h1v1h-1zM1132 480h3v1h-3zM1135 479h1v1h-1zM1139 478h1v1h-1zM1140 477h3v1h-3zM1143 476h1v1h-1zM1147 475h4v1h-4zM1151 474h1v1h-1zM1155 473h4v1h-4zM1159 472h1v1h-1zM1163 471h3v1h-3zM1166 470h2v1h-2zM1171 469h2v1h-2z" fill="#FF0000" shape-rendering="crispEdges"/>
<text x="1195.3" y="448" textLength="27.7" lengthAdjust="spacingAndGlyphs">3.7725</text>
<text x="1195.3" y="492" textLength="17.7" lengthAdjust="spacingAndGlyphs">0.00</text>
<text x="1195.5" y="549" textLength="30.7" lengthAdjust="spacingAndGlyphs">-4.8652</text>
<path d="M5 626h3v1h-3zM8 625h4v1h-4zM12 624h3v1h-3zM15 623h3v1h-3zM18 622h2v1h-2zM20 621h11v1h-11zM31 622h3v1h-3zM34 623h3v1h-3zM37 624h4v1h-4zM41 625h4v1h-4zM45 626h4v1h-4zM49 627h4v1h-4zM53 628h5v1h-5zM58 629h4v1h-4zM62 630h1v1h-1zM63 631h2v1h-2zM65 632h1v1h-1zM66 633h1v1h-1zM67 634h2v1h-2zM69 635h1v1h-1zM70 634h2v1h-2zM72 633h2v1h-2zM74 632h2v1h-2zM76 631h10v1h-10zM86 632h2v1h-2zM88 633h1v1h-1zM89 634h1v1h-1zM90 635h2v1h-2zM92 636h1v1h-1zM93 637h2v1h-2zM95 638h3v1h-3zM98 639h2v1h-2zM100 640h3v1h-3zM103 641h5v1h-5zM108 642h3v1h-3zM111 641h3v1h-3zM114 640h3v1h-3zM117 639h3v1h-3zM120 640h9v1h-9zM129 641h5v1h-5zM134 639h1v2h-1zM135 638h1v1h-1zM136 637h1v1h-1zM137 636h1v1h-1zM138 635h1v1h-1zM139 633h1v2h-1zM140 632h1v1h-1zM141 631h1v1h-1zM142 630h2v1h-2zM144 629h1v1h-1zM145 628h1v1h-1zM146 627h2v1h-2zM148 626h1v1h-1zM149 625h1v1h-1zM150 626h1v1h-1zM151 627h1v1h-1zM152 628h2v1h-2zM154 629h1v1h-1zM155 630h1v1h-1zM156 631h1v1h-1zM157 632h10v1h-10zM167 633h3v1h-3zM170 634h2v1h-2zM172 635h6v1h-6zM178 634h4v1h-4zM182 633h1v1h-1zM183 632h1v1h-1zM184 631h1v1h-1zM185 630h1v1h-1zM186 629h1v1h-1zM187 628h1v1h-1zM188 627h2v1h-2zM190 626h2v1h-2zM192 625h2v1h-2zM194 624h2v1h-2zM196 623h2v1h-2zM198 622h1v1h-1zM199 621h1v1h-1zM200 620h1v1h-1zM201 619h1v1h-1zM202 618h1v1h-1zM203 617h1v1h-1zM204 616h1v1h-1zM205 615h1v1h-1zM206 614h1v1h-1zM207 613h1v1h-1zM208 612h1v1h-1zM209 611h1v1h-1zM210 610h1v1h-1zM211 609h1v1h-1zM212 608h1v1h-1zM213 607h4v1h-4zM217 608h9v1h-9zM226 607h4v1h-4zM230 606h2v1h-2zM232 605h1v1h-1zM233 604h1v1h-1zM234 603h2v1h-2zM236 602h1v1h-1zM237 601h1v1h-1zM238 602h2v1h-2zM240 603h1v1h-1zM241 604h2v1h-2zM243 605h2v1h-2zM245 606h3v1h-3zM248 607h4v1h-4zM252 608h6v1h-6zM258 609h7v1h-7zM265 608h5v1h-5zM270 607h1v1h-1zM271 605h1v2h-1zM272 604h1v1h-1zM273 603h1v1h-1zM274 602h1v1h-1zM275 601h1v1h-1zM276 600h1v1h-1zM277 599h1v1h-1zM278 598h5v1h-5zM283 597h5v1h-5zM288 596h6v1h-6zM294 595h2v1h-2zM296 594h2v1h-2zM298 593h2v1h-2zM300 592h3v1h-3zM303 591h2v1h-2zM305 590h3v1h-3zM308 589h10v1h-10zM318 588h5v1h-5zM323 587h5v1h-5zM328 588h5v1h-5zM333 589h1v1h-1zM334 590h1v1h-1zM335 591h1v1h-1zM336 592h1v1h-1zM337 593h1v1h-1zM338 594h1v1h-1zM339 595h1v1h-1zM340 596h1v1h-1zM341 597h2v1h-2zM343 598h3v1h-3zM346 599h2v1h-2zM348 600h4v1h-4zM352 599h7v1h-7zM359 600h3v1h-3zM362 601h2v1h-2zM364 602h2v1h-2zM366 601h1v1h-1zM367 600h2v1h-2zM369 599h1v1h-1zM370 598h2v1h-2zM372 597h1v1h-1zM373 596h9v1h-9zM382 595h2v1h-2zM384 594h2v1h-2zM386 593h2v1h-2zM388 592h2v1h-2zM390 591h2v1h-2zM392 590h2v1h-2zM394 589h1v1h-1zM395 588h2v1h-2zM397 587h3v1h-3zM400 588h17v1h-17zM417 589h9v1h-9zM426 588h5v1h-5zM431 589h5v1h-5zM436 590h2v1h-2zM438 591h1v2h-1zM439 593h1v2h-1zM440 595h1v1h-1zM441 596h1v2h-1zM442 598h1v2h-1zM443 600h1v1h-1zM444 601h1v2h-1zM445 603h2v1h-2zM447 604h2v1h-2zM449 605h2v1h-2zM451 606h2v1h-2zM453 607h9v1h-9zM462 606h2v1h-2zM464 605h1v1h-1zM465 604h2v1h-2zM467 603h2v1h-2zM469 602h1v1h-1zM470 603h1v1h-1zM471 604h1v1h-1zM472 605h1v1h-1zM473 606h1v2h-1zM474 608h1v1h-1zM475 609h1v1h-1zM476 610h1v1h-1zM477 611h3v1h-3zM480 612h4v1h-4zM484 613h2v1h-2zM486 612h1v1h-1zM487 611h1v1h-1zM488 609h1v2h-1zM489 608h1v1h-1zM490 607h1v1h-1zM491 606h1v1h-1zM492 605h1v1h-1zM493 604h13v1h-13zM506 605h4v1h-4zM510 606h1v1h-1zM511 607h1v1h-1zM512 608h1v1h-1zM513 609h1v1h-1zM514 610h1v1h-1zM515 611h1v1h-1zM516 612h1v1h-1zM517 613h2v1h-2zM519 614h2v1h-2zM521 615h3v1h-3zM524 616h2v1h-2zM526 617h1v1h-1zM527 618h1v1h-1zM528 619h2v1h-2zM530 620h1v1h-1zM531 621h1v1h-1zM532 622h1v1h-1zM533 623h10v1h-10zM543 624h1v1h-1zM544 625h2v1h-2zM546 626h1v1h-1zM547 627h2v1h-2zM549 628h1v1h-1zM550 629h1v1h-1zM551 630h1v1h-1zM552 631h1v2h-1zM553 633h1v1h-1zM554 634h1v1h-1zM555 635h1v1h-1zM556 636h1v1h-1zM557 637h1v1h-1zM558 636h1v1h-1zM559 635h2v1h-2zM561 634h1v1h-1zM562 633h1v1h-1zM563 632h1v1h-1zM564 631h1v1h-1zM565 630h1v1h-1zM566 631h2v1h-2zM568 632h1v1h-1zM569 633h2v1h-2zM571 634h2v1h-2zM573 635h2v1h-2zM575 636h4v1h-4zM579 637h3v1h-3zM582 636h1v1h-1zM583 635h1v1h-1zM584 634h1v1h-1zM585 632h1v2h-1zM586 631h1v1h-1zM587 630h1v1h-1zM588 629h1v1h-1zM589 628h2v1h-2zM591 627h4v1h-4zM595 626h8v1h-8zM603 627h3v1h-3zM606 626h2v1h-2zM608 625h2v1h-2zM610 624h3v1h-3zM613 623h4v1h-4zM617 622h5v1h-5zM622 621h1v1h-1zM623 620h2v1h-2zM625 619h2v1h-2zM627 618h1v1h-1zM628 617h4v1h-4zM632 618h4v1h-4zM636 619h10v1h-10zM646 620h1v2h-1zM647 622h1v1h-1zM648 623h1v2h-1zM649 625h1v1h-1zM650 626h1v1h-1zM651 627h1v2h-1zM652 629h1v1h-1zM653 630h2v1h-2zM655 629h2v1h-2zM657 628h3v1h-3zM660 627h3v1h-3zM663 628h2v1h-2zM665 629h2v1h-2zM667 630h2v1h-2zM669 631h1v1h-1zM670 630h1v1h-1zM671 629h1v1h-1zM672 628h1v1h-1zM673 627h1v1h-1zM674 626h1v1h-1zM675 625h1v1h-1zM676 624h1v1h-1zM677 623h1v1h-1zM678 624h2v1h-2zM680 625h1v1h-1zM681 626h1v1h-1zM682 627h2v1h-2zM684 628h1v1h-1zM685 629h2v1h-2zM687 628h4v1h-4zM691 627h6v1h-6zM697 628h4v1h-4zM701 629h4v1h-4zM705 630h4v1h-4zM709 631h5v1h-5zM714 632h4v1h-4zM718 631h2v1h-2zM720 630h2v1h-2zM722 629h1v1h-1zM723 628h2v1h-2zM725 627h20v1h-20zM745 626h5v1h-5zM750 625h4v1h-4zM754 624h4v1h-4zM758 623h4v1h-4zM762 622h4v1h-4zM766 621h1v1h-1zM767 620h2v1h-2zM769 619h2v1h-2zM771 618h1v1h-1zM772 617h2v1h-2zM774 616h1v1h-1zM775 615h2v1h-2zM777 614h1v1h-1zM778 613h1v1h-1zM779 612h2v1h-2zM781 611h9v1h-9zM790 610h2v1h-2zM792 609h2v1h-2zM794 608h2v1h-2zM796 607h5v1h-5zM801 608h4v1h-4zM805 609h9v1h-9zM814 610h1v1h-1zM815 611h2v1h-2zM817 612h1v1h-1zM818 613h1v1h-1zM819 614h1v1h-1zM820 615h1v1h-1zM821 616h1v1h-1zM822 617h1v1h-1zM823 618h1v1h-1zM824 619h1v1h-1zM825 620h1v2h-1zM826 622h1v1h-1zM827 623h1v1h-1zM828 624h1v1h-1zM829 625h1v1h-1zM830 624h2v1h-2zM832 623h1v1h-1zM833 622h2v1h-2zM835 621h1v1h-1zM836 620h2v1h-2zM838 619h2v1h-2zM840 618h2v1h-2zM842 617h2v1h-2zM844 616h2v1h-2zM846 615h2v1h-2zM848 614h2v1h-2zM850 613h2v1h-2zM852 612h6v1h-6zM858 613h4v1h-4zM862 614h1v2h-1zM863 616h1v1h-1zM864 617h1v2h-1zM865 619h1v1h-1zM866 620h1v2h-1zM867 622h1v1h-1zM868 623h1v2h-1zM869 625h1v1h-1zM870 626h1v1h-1zM871 627h2v1h-2zM873 628h1v1h-1zM874 629h1v1h-1zM875 630h1v1h-1zM876 631h1v1h-1zM877 632h9v1h-9zM886 631h2v1h-2zM888 630h1v1h-1zM889 629h2v1h-2zM891 628h1v1h-1zM892 627h3v1h-3zM895 628h2v1h-2zM897 629h2v1h-2zM899 630h2v1h-2zM901 631h1v1h-1zM902 630h1v1h-1zM903 629h1v1h-1zM904 628h1v1h-1zM905 627h2v1h-2zM907 626h1v1h-1zM908 625h1v1h-1zM909 624h1v1h-1zM910 625h1v1h-1zM911 626h1v1h-1zM912 627h1v1h-1zM913 628h1v2h-1zM914 630h1v1h-1zM915 631h1v1h-1zM916 632h1v1h-1zM917 633h1v1h-1zM918 632h1v1h-1zM919 631h1v1h-1zM920 630h1v1h-1zM921 629h1v1h-1zM922 628h1v1h-1zM923 627h1v1h-1zM924 626h1v1h-1zM925 625h3v1h-3zM928 624h7v1h-7zM935 625h2v1h-2zM937 626h2v1h-2zM939 627h2v1h-2zM941 628h1v1h-1zM942 627h1v1h-1zM943 626h2v1h-2zM945 625h1v1h-1zM946 624h1v1h-1zM947 623h2v1h-2zM949 622h3v1h-3zM952 623h4v1h-4zM956 624h5v1h-5zM961 623h5v1h-5zM966 622h1v1h-1zM967 621h2v1h-2zM969 620h1v1h-1zM970 619h1v1h-1zM971 618h2v1h-2zM973 617h5v1h-5zM978 618h4v1h-4zM982 619h1v1h-1zM983 620h2v1h-2zM985 621h1v1h-1zM986 622h1v1h-1zM987 623h2v1h-2zM989 624h2v1h-2zM991 623h4v1h-4zM995 622h3v1h-3zM998 623h1v1h-1zM999 624h1v1h-1zM1000 625h1v1h-1zM1001 626h1v1h-1zM1002 627h1v1h-1zM1003 628h1v1h-1zM1004 629h1v1h-1zM1005 630h2v1h-2zM1007 629h2v1h-2zM1009 628h2v1h-2zM1011 627h2v1h-2zM1013 626h5v1h-5zM1018 625h8v1h-8zM1026 624h4v1h-4zM1030 623h2v1h-2zM1032 622h1v1h-1zM1033 621h2v1h-2zM1035 620h2v1h-2zM1037 619h3v1h-3zM1040 618h6v1h-6zM1046 617h1v1h-1zM1047 616h1v1h-1zM1048 615h1v1h-1zM1049 614h1v1h-1zM1050 613h1v1h-1zM1051 612h1v1h-1zM1052 611h1v1h-1zM1053 610h1v1h-1zM1054 609h1v1h-1zM1055 608h1v1h-1zM1056 607h1v1h-1zM1057 606h1v1h-1zM1058 605h1v1h-1zM1059 604h1v1h-1zM1060 603h1v1h-1zM1061 602h2v1h-2zM1063 603h3v1h-3zM1066 604h2v1h-2zM1068 605h5v1h-5zM1073 604h7v1h-7zM1080 605h4v1h-4zM1084 606h10v1h-10zM1094 605h2v1h-2zM1096 604h2v1h-2zM1098 603h2v1h-2zM1100 602h2v1h-2zM1102 601h1v1h-1zM1103 600h2v1h-2zM1105 599h2v1h-2zM1107 598h1v1h-1zM1108 597h2v1h-2zM1110 596h2v1h-2zM1112 595h3v1h-3zM1115 594h2v1h-2zM1117 593h11v1h-11zM1128 594h4v1h-4zM1132 595h3v1h-3zM1135 596h1v1h-1zM1136 597h2v1h-2zM1138 598h2v1h-2zM1140 599h1v1h-1zM1141 600h4v1h-4zM1145 601h3v1h-3zM1148 602h2v1h-2zM1150 601h3v1h-3zM1153 600h2v1h-2zM1155 599h3v1h-3zM1158 597h1v2h-1zM1159 596h1v1h-1zM1160 595h1v1h-1zM1161 594h1v1h-1zM1162 593h1v1h-1zM1163 592h1v1h-1zM1164 591h1v1h-1zM1165 590h5v1h-5zM1170 589h3v1h-3z" fill="#1E90FF" shape-rendering="crispEdges"/>
<line x1="6" y1="590.5" x2="1192" y2="590.5" stroke="#C0C0C0" stroke-width="1" stroke-dasharray="3 3" shape-rendering="crispEdges"/>
<line x1="6" y1="637.5" x2="1192" y2="637.5" stroke="#C0C0C0" stroke-width="1" stroke-dasharray="3 3" shape-rendering="crispEdges"/>
<text x="1196.2" y="565" textLength="14.1" lengthAdjust="spacingAndGlyphs">100</text>
<text x="1194.6" y="594" textLength="9.7" lengthAdjust="spacingAndGlyphs">70</text>
<text x="1194.6" y="641" textLength="9.7" lengthAdjust="spacingAndGlyphs">30</text>
<text x="1195.3" y="669" textLength="4.7" lengthAdjust="spacingAndGlyphs">0</text>
<g shape-rendering="crispEdges">
<rect x="5" y="673" width="1" height="3" fill="#000"/>
<rect x="69" y="673" width="1" height="3" fill="#000"/>
<rect x="133" y="673" width="1" height="3" fill="#000"/>
<rect x="197" y="673" width="1" height="3" fill="#000"/>
<rect x="261" y="673" width="1" height="3" fill="#000"/>
<rect x="325" y="673" width="1" height="3" fill="#000"/>
<rect x="389" y="673" width="1" height="3" fill="#000"/>
<rect x="453" y="673" width="1" height="3" fill="#000"/>
<rect x="517" y="673" width="1" height="3" fill="#000"/>
<rect x="581" y="673" width="1" height="3" fill="#000"/>
<rect x="645" y="673" width="1" height="3" fill="#000"/>
<rect x="709" y="673" width="1" height="3" fill="#000"/>
<rect x="773" y="673" width="1" height="3" fill="#000"/>
<rect x="837" y="673" width="1" height="3" fill="#000"/>
<rect x="901" y="673" width="1" height="3" fill="#000"/>
<rect x="965" y="673" width="1" height="3" fill="#000"/>
<rect x="1029" y="673" width="1" height="3" fill="#000"/>
<rect x="1093" y="673" width="1" height="3" fill="#000"/>
<rect x="1157" y="673" width="1" height="3" fill="#000"/>
</g>
<text x="4.4" y="685" textLength="51.1" lengthAdjust="spacingAndGlyphs">11 Mar 2022</text>
<text x="68.4" y="685" textLength="54.1" lengthAdjust="spacingAndGlyphs">14 Mar 12:00</text>
<text x="132.39999999999998" y="685" textLength="54.1" lengthAdjust="spacingAndGlyphs">15 Mar 20:00</text>
<text x="196.39999999999998" y="685" textLength="54.1" lengthAdjust="spacingAndGlyphs">17 Mar 04:00</text>
<text x="260.4" y="685" textLength="54.1" lengthAdjust="spacingAndGlyphs">18 Mar 12:00</text>
<text x="323.7" y="685" textLength="54.7" lengthAdjust="spacingAndGlyphs">22 Mar 00:00</text>
<text x="387.7" y="685" textLength="54.7" lengthAdjust="spacingAndGlyphs">23 Mar 08:00</text>
<text x="451.7" y="685" textLength="54.7" lengthAdjust="spacingAndGlyphs">24 Mar 16:00</text>
<text x="515.7" y="685" textLength="54.7" lengthAdjust="spacingAndGlyphs">28 Mar 00:00</text>
<text x="579.7" y="685" textLength="54.7" lengthAdjust="spacingAndGlyphs">29 Mar 12:00</text>
<text x="643.7" y="685" textLength="54.7" lengthAdjust="spacingAndGlyphs">30 Mar 20:00</text>
<text x="708.4000000000001" y="685" textLength="48.1" lengthAdjust="spacingAndGlyphs">1 Apr 04:00</text>
<text x="771.7" y="685" textLength="48.7" lengthAdjust="spacingAndGlyphs">4 Apr 12:00</text>
<text x="835.7" y="685" textLength="48.7" lengthAdjust="spacingAndGlyphs">5 Apr 20:00</text>
<text x="899.7" y="685" textLength="48.7" lengthAdjust="spacingAndGlyphs">7 Apr 04:00</text>
<text x="963.7" y="685" textLength="48.7" lengthAdjust="spacingAndGlyphs">8 Apr 12:00</text>
<text x="1028.4" y="685" textLength="53.1" lengthAdjust="spacingAndGlyphs">11 Apr 20:00</text>
<text x="1092.4" y="685" textLength="53.1" lengthAdjust="spacingAndGlyphs">13 Apr 04:00</text>
<text x="1156.4" y="685" textLength="53.1" lengthAdjust="spacingAndGlyphs">14 Apr 12:00</text>
</svg>
</body></html>
